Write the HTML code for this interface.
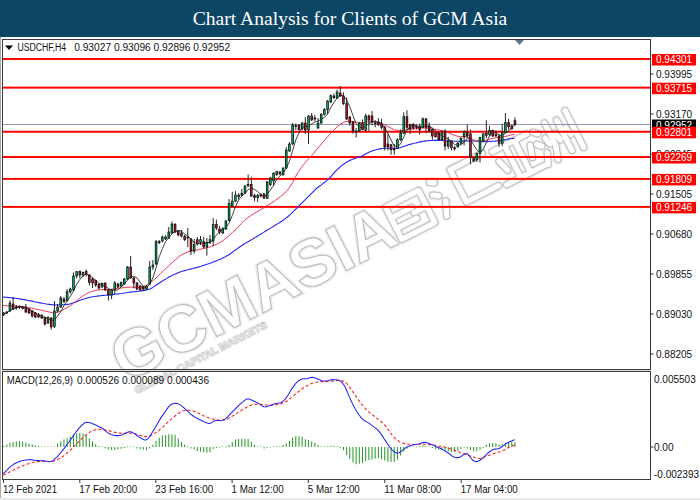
<!DOCTYPE html>
<html><head><meta charset="utf-8"><title>Chart Analysis for Clients of GCM Asia</title>
<style>
html,body{margin:0;padding:0;background:#fff;}
body{width:700px;height:500px;overflow:hidden;position:relative;font-family:"Liberation Sans",sans-serif;}
#hdr{position:absolute;left:0;top:0;width:700px;height:37px;background:#0d4565;color:#fff;font-family:"Liberation Serif",serif;font-size:19.6px;line-height:37px;text-align:center;}
#hdr span{display:inline-block;position:relative;top:-0.5px;}
svg{position:absolute;left:0;top:0;}
svg text{font-family:"Liberation Sans",sans-serif;font-size:10px;}
</style></head><body>
<div id="hdr"><span>Chart Analysis for Clients of GCM Asia</span></div>
<svg width="700" height="500" viewBox="0 0 700 500">
<rect x="0" y="37" width="1" height="463" fill="#a9a9a9"/>
<rect x="0" y="498" width="700" height="2" fill="#e9e9e9"/>
<g transform="translate(125.5,383) rotate(-27)" font-family="Liberation Sans, sans-serif" font-weight="bold">
<text x="0" y="0" style="font-size:66px" fill="none" stroke="#ededed" stroke-width="4" textLength="309" lengthAdjust="spacingAndGlyphs">GCMASIA</text>
<text x="0" y="0" style="font-size:66px" fill="#fff" stroke="#bcbcbc" stroke-width="1.1" textLength="309" lengthAdjust="spacingAndGlyphs">GCMASIA</text>
<g fill="none" stroke-linecap="round" stroke-linejoin="round"><polyline points="311.5,-38.5 348.5,-38.5 348.5,-2.5 311.5,-2.5 311.5,-38.5" stroke="#eeeeee" stroke-width="10"/><polyline points="311.5,-26.5 334.4,-26.5" stroke="#eeeeee" stroke-width="10"/><polyline points="311.5,-14.5 334.4,-14.5" stroke="#eeeeee" stroke-width="10"/><polyline points="334.4,-20.9 348.5,-20.9" stroke="#eeeeee" stroke-width="10"/><polyline points="362.0,-40.8 366.0,-38.3" stroke="#eeeeee" stroke-width="10"/><polyline points="359.0,-27.9 364.0,-24.5" stroke="#eeeeee" stroke-width="10"/><polyline points="368.0,-16.8 362.0,-3.0" stroke="#eeeeee" stroke-width="10"/><polyline points="422.0,-42.6 386.0,-42.6 386.0,-6.4 422.0,-6.4" stroke="#eeeeee" stroke-width="10"/><polyline points="431.7,-39.6 470.3,-39.6" stroke="#eeeeee" stroke-width="10"/><polyline points="445.5,-39.6 445.5,-3.6" stroke="#eeeeee" stroke-width="10"/><polyline points="456.5,-39.6 456.5,-3.6" stroke="#eeeeee" stroke-width="10"/><polyline points="433.5,-27.9 437.2,-16.2" stroke="#eeeeee" stroke-width="10"/><polyline points="468.5,-27.9 464.8,-16.2" stroke="#eeeeee" stroke-width="10"/><polyline points="429.8,-3.6 472.2,-3.6" stroke="#eeeeee" stroke-width="10"/><polyline points="476.7,-38.6 480.4,-35.0" stroke="#eeeeee" stroke-width="10"/><polyline points="474.8,-25.8 478.5,-22.1" stroke="#eeeeee" stroke-width="10"/><polyline points="475.8,-2.8 480.4,-13.8" stroke="#eeeeee" stroke-width="10"/><polyline points="491.4,-41.4 491.4,-16.6 486.8,-2.8" stroke="#eeeeee" stroke-width="10"/><polyline points="503.4,-38.6 503.4,-4.6" stroke="#eeeeee" stroke-width="10"/><polyline points="515.3,-43.2 515.3,-1.8" stroke="#eeeeee" stroke-width="10"/><polyline points="496.0,-27.6 497.8,-19.3" stroke="#eeeeee" stroke-width="10"/><polyline points="508.0,-27.6 509.8,-19.3" stroke="#eeeeee" stroke-width="10"/><polyline points="485.0,-27.6 486.8,-20.2" stroke="#eeeeee" stroke-width="10"/><polyline points="311.5,-38.5 348.5,-38.5 348.5,-2.5 311.5,-2.5 311.5,-38.5" stroke="#bcbcbc" stroke-width="7.4"/><polyline points="311.5,-26.5 334.4,-26.5" stroke="#bcbcbc" stroke-width="7.4"/><polyline points="311.5,-14.5 334.4,-14.5" stroke="#bcbcbc" stroke-width="7.4"/><polyline points="334.4,-20.9 348.5,-20.9" stroke="#bcbcbc" stroke-width="7.4"/><polyline points="362.0,-40.8 366.0,-38.3" stroke="#bcbcbc" stroke-width="7.4"/><polyline points="359.0,-27.9 364.0,-24.5" stroke="#bcbcbc" stroke-width="7.4"/><polyline points="368.0,-16.8 362.0,-3.0" stroke="#bcbcbc" stroke-width="7.4"/><polyline points="422.0,-42.6 386.0,-42.6 386.0,-6.4 422.0,-6.4" stroke="#bcbcbc" stroke-width="7.4"/><polyline points="431.7,-39.6 470.3,-39.6" stroke="#bcbcbc" stroke-width="7.4"/><polyline points="445.5,-39.6 445.5,-3.6" stroke="#bcbcbc" stroke-width="7.4"/><polyline points="456.5,-39.6 456.5,-3.6" stroke="#bcbcbc" stroke-width="7.4"/><polyline points="433.5,-27.9 437.2,-16.2" stroke="#bcbcbc" stroke-width="7.4"/><polyline points="468.5,-27.9 464.8,-16.2" stroke="#bcbcbc" stroke-width="7.4"/><polyline points="429.8,-3.6 472.2,-3.6" stroke="#bcbcbc" stroke-width="7.4"/><polyline points="476.7,-38.6 480.4,-35.0" stroke="#bcbcbc" stroke-width="7.4"/><polyline points="474.8,-25.8 478.5,-22.1" stroke="#bcbcbc" stroke-width="7.4"/><polyline points="475.8,-2.8 480.4,-13.8" stroke="#bcbcbc" stroke-width="7.4"/><polyline points="491.4,-41.4 491.4,-16.6 486.8,-2.8" stroke="#bcbcbc" stroke-width="7.4"/><polyline points="503.4,-38.6 503.4,-4.6" stroke="#bcbcbc" stroke-width="7.4"/><polyline points="515.3,-43.2 515.3,-1.8" stroke="#bcbcbc" stroke-width="7.4"/><polyline points="496.0,-27.6 497.8,-19.3" stroke="#bcbcbc" stroke-width="7.4"/><polyline points="508.0,-27.6 509.8,-19.3" stroke="#bcbcbc" stroke-width="7.4"/><polyline points="485.0,-27.6 486.8,-20.2" stroke="#bcbcbc" stroke-width="7.4"/><polyline points="311.5,-38.5 348.5,-38.5 348.5,-2.5 311.5,-2.5 311.5,-38.5" stroke="#ffffff" stroke-width="5.4"/><polyline points="311.5,-26.5 334.4,-26.5" stroke="#ffffff" stroke-width="5.4"/><polyline points="311.5,-14.5 334.4,-14.5" stroke="#ffffff" stroke-width="5.4"/><polyline points="334.4,-20.9 348.5,-20.9" stroke="#ffffff" stroke-width="5.4"/><polyline points="362.0,-40.8 366.0,-38.3" stroke="#ffffff" stroke-width="5.4"/><polyline points="359.0,-27.9 364.0,-24.5" stroke="#ffffff" stroke-width="5.4"/><polyline points="368.0,-16.8 362.0,-3.0" stroke="#ffffff" stroke-width="5.4"/><polyline points="422.0,-42.6 386.0,-42.6 386.0,-6.4 422.0,-6.4" stroke="#ffffff" stroke-width="5.4"/><polyline points="431.7,-39.6 470.3,-39.6" stroke="#ffffff" stroke-width="5.4"/><polyline points="445.5,-39.6 445.5,-3.6" stroke="#ffffff" stroke-width="5.4"/><polyline points="456.5,-39.6 456.5,-3.6" stroke="#ffffff" stroke-width="5.4"/><polyline points="433.5,-27.9 437.2,-16.2" stroke="#ffffff" stroke-width="5.4"/><polyline points="468.5,-27.9 464.8,-16.2" stroke="#ffffff" stroke-width="5.4"/><polyline points="429.8,-3.6 472.2,-3.6" stroke="#ffffff" stroke-width="5.4"/><polyline points="476.7,-38.6 480.4,-35.0" stroke="#ffffff" stroke-width="5.4"/><polyline points="474.8,-25.8 478.5,-22.1" stroke="#ffffff" stroke-width="5.4"/><polyline points="475.8,-2.8 480.4,-13.8" stroke="#ffffff" stroke-width="5.4"/><polyline points="491.4,-41.4 491.4,-16.6 486.8,-2.8" stroke="#ffffff" stroke-width="5.4"/><polyline points="503.4,-38.6 503.4,-4.6" stroke="#ffffff" stroke-width="5.4"/><polyline points="515.3,-43.2 515.3,-1.8" stroke="#ffffff" stroke-width="5.4"/><polyline points="496.0,-27.6 497.8,-19.3" stroke="#ffffff" stroke-width="5.4"/><polyline points="508.0,-27.6 509.8,-19.3" stroke="#ffffff" stroke-width="5.4"/><polyline points="485.0,-27.6 486.8,-20.2" stroke="#ffffff" stroke-width="5.4"/></g>
<text x="5" y="15" style="font-size:10px" fill="none" stroke="#f0f0f0" stroke-width="2.2" textLength="147" lengthAdjust="spacingAndGlyphs">GLOBAL CAPITAL MARKETS</text>
<text x="5" y="15" style="font-size:10px" fill="#fff" stroke="#c4c4c4" stroke-width="0.6" textLength="147" lengthAdjust="spacingAndGlyphs">GLOBAL CAPITAL MARKETS</text>
</g>
<!-- frames -->
<rect x="2" y="39" width="649" height="1" fill="#3c3c3c"/>
<rect x="2" y="39" width="1" height="441" fill="#3c3c3c"/>
<rect x="650" y="39" width="1" height="441" fill="#3c3c3c"/>
<rect x="2" y="369" width="649" height="1" fill="#3c3c3c"/>
<rect x="2" y="370" width="649" height="1" fill="#d8d8d8"/>
<rect x="2" y="371" width="649" height="1" fill="#3c3c3c"/>
<rect x="2" y="479" width="649" height="1" fill="#3c3c3c"/>
<polygon points="515,40 524,40 519.5,45" fill="#5d7891"/>
<rect x="3" y="124" width="647" height="1" fill="#8e9cae"/>
<rect x="3" y="58.02" width="647" height="1.96" fill="#ff0000"/><rect x="3" y="86.67" width="647" height="1.96" fill="#ff0000"/><rect x="3" y="130.77" width="647" height="1.96" fill="#ff0000"/><rect x="3" y="156.02" width="647" height="1.96" fill="#ff0000"/><rect x="3" y="177.92" width="647" height="1.96" fill="#ff0000"/><rect x="3" y="205.92" width="647" height="1.96" fill="#ff0000"/>
<path d="M3.0,297.0 L4.5,297.1 L6.0,297.2 L7.5,297.4 L9.0,297.6 L10.5,297.8 L12.0,297.9 L13.5,298.1 L15.0,298.3 L16.5,298.5 L18.0,298.7 L19.5,298.9 L21.0,299.1 L22.5,299.4 L24.0,299.6 L25.5,299.9 L27.0,300.2 L28.5,300.6 L30.0,300.8 L31.5,301.1 L33.0,301.4 L34.5,301.8 L36.0,302.1 L37.5,302.3 L39.0,302.6 L40.5,302.9 L42.0,303.2 L43.5,303.5 L45.0,303.7 L46.5,304.0 L48.0,304.2 L49.5,304.4 L51.0,304.6 L52.5,304.8 L54.0,304.9 L55.5,305.0 L57.0,305.0 L58.5,305.0 L60.0,305.0 L61.5,304.9 L63.0,304.8 L64.5,304.7 L66.0,304.6 L67.5,304.4 L69.0,304.2 L70.5,303.8 L72.0,303.3 L73.5,302.8 L75.0,302.3 L76.5,301.7 L78.0,301.1 L79.5,300.5 L81.0,300.0 L82.5,299.5 L84.0,299.0 L85.5,298.6 L87.0,298.1 L88.5,297.7 L90.0,297.3 L91.5,297.0 L93.0,296.7 L94.5,296.5 L96.0,296.3 L97.5,296.1 L99.0,295.9 L100.5,295.7 L102.0,295.5 L103.5,295.4 L105.0,295.3 L106.5,295.2 L108.0,295.0 L109.5,294.9 L111.0,294.7 L112.5,294.6 L114.0,294.4 L115.5,294.2 L117.0,294.0 L118.5,293.9 L120.0,293.7 L121.5,293.5 L123.0,293.2 L124.5,293.0 L126.0,292.8 L127.5,292.5 L129.0,292.3 L130.5,292.1 L132.0,291.9 L133.5,291.7 L135.0,291.6 L136.5,291.4 L138.0,291.3 L139.5,291.1 L141.0,290.9 L142.5,290.6 L144.0,290.4 L145.5,290.1 L147.0,289.8 L148.5,289.4 L150.0,289.0 L151.5,288.3 L153.0,287.4 L154.5,286.4 L156.0,285.3 L157.5,284.3 L159.0,283.2 L160.5,282.2 L162.0,281.3 L163.5,280.4 L165.0,279.5 L166.5,278.6 L168.0,277.6 L169.5,276.8 L171.0,276.0 L172.5,275.2 L174.0,274.6 L175.5,273.9 L177.0,273.2 L178.5,272.6 L180.0,272.0 L181.5,271.5 L183.0,271.0 L184.5,270.6 L186.0,270.2 L187.5,269.8 L189.0,269.5 L190.5,269.1 L192.0,268.7 L193.5,268.3 L195.0,267.9 L196.5,267.5 L198.0,267.1 L199.5,266.7 L201.0,266.3 L202.5,265.8 L204.0,265.3 L205.5,264.8 L207.0,264.3 L208.5,263.8 L210.0,263.2 L211.5,262.7 L213.0,262.1 L214.5,261.5 L216.0,260.9 L217.5,260.3 L219.0,259.7 L220.5,259.0 L222.0,258.4 L223.5,257.6 L225.0,256.9 L226.5,256.1 L228.0,255.3 L229.5,254.3 L231.0,253.3 L232.5,252.2 L234.0,251.1 L235.5,250.0 L237.0,248.9 L238.5,247.8 L240.0,246.8 L241.5,245.8 L243.0,244.8 L244.5,243.8 L246.0,242.9 L247.5,242.0 L249.0,241.2 L250.5,240.3 L252.0,239.4 L253.5,238.5 L255.0,237.6 L256.5,236.7 L258.0,235.8 L259.5,234.9 L261.0,234.0 L262.5,233.1 L264.0,232.1 L265.5,231.2 L267.0,230.3 L268.5,229.4 L270.0,228.5 L271.5,227.6 L273.0,226.7 L274.5,225.7 L276.0,224.8 L277.5,223.9 L279.0,223.0 L280.5,222.0 L282.0,221.0 L283.5,220.0 L285.0,218.9 L286.5,217.7 L288.0,216.5 L289.5,215.2 L291.0,213.8 L292.5,212.3 L294.0,210.8 L295.5,209.3 L297.0,207.8 L298.5,206.3 L300.0,204.8 L301.5,203.3 L303.0,201.8 L304.5,200.3 L306.0,198.8 L307.5,197.3 L309.0,195.8 L310.5,194.3 L312.0,192.8 L313.5,191.3 L315.0,189.8 L316.5,188.5 L318.0,187.3 L319.5,186.2 L321.0,185.1 L322.5,183.9 L324.0,182.7 L325.5,181.6 L327.0,180.3 L328.5,179.0 L330.0,177.5 L331.5,175.9 L333.0,174.2 L334.5,172.5 L336.0,170.9 L337.5,169.4 L339.0,168.0 L340.5,166.7 L342.0,165.4 L343.5,164.2 L345.0,163.1 L346.5,162.2 L348.0,161.4 L349.5,160.6 L351.0,159.9 L352.5,159.3 L354.0,158.7 L355.5,158.2 L357.0,157.8 L358.5,157.3 L360.0,156.8 L361.5,156.2 L363.0,155.4 L364.5,154.6 L366.0,153.7 L367.5,153.0 L369.0,152.3 L370.5,151.6 L372.0,151.0 L373.5,150.4 L375.0,150.0 L376.5,149.5 L378.0,149.2 L379.5,148.9 L381.0,148.6 L382.5,148.5 L384.0,148.3 L385.5,148.3 L387.0,148.3 L388.5,148.3 L390.0,148.3 L391.5,148.3 L393.0,148.3 L394.5,148.3 L396.0,148.3 L397.5,148.2 L399.0,147.9 L400.5,147.5 L402.0,146.9 L403.5,146.4 L405.0,145.9 L406.5,145.4 L408.0,144.9 L409.5,144.5 L411.0,144.1 L412.5,143.7 L414.0,143.3 L415.5,143.0 L417.0,142.6 L418.5,142.3 L420.0,141.9 L421.5,141.6 L423.0,141.3 L424.5,141.1 L426.0,140.9 L427.5,140.7 L429.0,140.6 L430.5,140.5 L432.0,140.5 L433.5,140.4 L435.0,140.4 L436.5,140.4 L438.0,140.4 L439.5,140.4 L441.0,140.4 L442.5,140.5 L444.0,140.6 L445.5,140.7 L447.0,140.8 L448.5,140.9 L450.0,141.0 L451.5,141.1 L453.0,141.2 L454.5,141.3 L456.0,141.3 L457.5,141.3 L459.0,141.2 L460.5,141.2 L462.0,141.1 L463.5,141.1 L465.0,141.0 L466.5,140.9 L468.0,140.9 L469.5,140.9 L471.0,140.9 L472.5,140.9 L474.0,141.0 L475.5,141.1 L477.0,141.2 L478.5,141.3 L480.0,141.4 L481.5,141.6 L483.0,141.7 L484.5,141.7 L486.0,141.7 L487.5,141.6 L489.0,141.5 L490.5,141.4 L492.0,141.3 L493.5,141.2 L495.0,141.1 L496.5,141.0 L498.0,140.8 L499.5,140.6 L501.0,140.4 L502.5,140.2 L504.0,139.9 L505.5,139.6 L507.0,139.3 L508.5,138.9 L510.0,138.7 L511.5,138.5 L513.0,138.4 L514.5,138.3" fill="none" stroke="#2424f4" stroke-width="1.1" stroke-linejoin="round"/>
<path d="M3.0,305.6 L4.5,305.7 L6.0,305.7 L7.5,305.8 L9.0,305.8 L10.5,305.9 L12.0,306.0 L13.5,306.0 L15.0,306.1 L16.5,306.2 L18.0,306.3 L19.5,306.4 L21.0,306.5 L22.5,306.7 L24.0,306.9 L25.5,307.2 L27.0,307.4 L28.5,307.6 L30.0,307.9 L31.5,308.2 L33.0,308.4 L34.5,308.8 L36.0,309.1 L37.5,309.3 L39.0,309.7 L40.5,310.0 L42.0,310.3 L43.5,310.7 L45.0,311.1 L46.5,311.4 L48.0,311.8 L49.5,312.1 L51.0,312.4 L52.5,312.7 L54.0,312.7 L55.5,312.6 L57.0,312.3 L58.5,311.9 L60.0,311.3 L61.5,310.6 L63.0,309.9 L64.5,309.1 L66.0,308.3 L67.5,307.4 L69.0,306.6 L70.5,305.6 L72.0,304.4 L73.5,303.2 L75.0,301.9 L76.5,300.7 L78.0,299.5 L79.5,298.4 L81.0,297.3 L82.5,296.3 L84.0,295.3 L85.5,294.4 L87.0,293.5 L88.5,292.7 L90.0,292.1 L91.5,291.5 L93.0,291.0 L94.5,290.6 L96.0,290.3 L97.5,290.0 L99.0,289.9 L100.5,289.7 L102.0,289.6 L103.5,289.6 L105.0,289.6 L106.5,289.6 L108.0,289.5 L109.5,289.4 L111.0,289.3 L112.5,289.0 L114.0,288.8 L115.5,288.6 L117.0,288.4 L118.5,288.2 L120.0,288.1 L121.5,287.9 L123.0,287.8 L124.5,287.6 L126.0,287.5 L127.5,287.3 L129.0,287.2 L130.5,287.1 L132.0,287.1 L133.5,287.2 L135.0,287.3 L136.5,287.3 L138.0,287.4 L139.5,287.4 L141.0,287.2 L142.5,286.8 L144.0,286.3 L145.5,285.7 L147.0,285.0 L148.5,284.2 L150.0,283.2 L151.5,282.0 L153.0,280.7 L154.5,279.4 L156.0,278.0 L157.5,276.6 L159.0,275.1 L160.5,273.6 L162.0,272.1 L163.5,270.7 L165.0,269.2 L166.5,267.8 L168.0,266.4 L169.5,265.0 L171.0,263.6 L172.5,262.3 L174.0,260.9 L175.5,259.6 L177.0,258.3 L178.5,257.0 L180.0,255.8 L181.5,254.8 L183.0,254.0 L184.5,253.4 L186.0,252.8 L187.5,252.2 L189.0,251.7 L190.5,251.3 L192.0,250.9 L193.5,250.6 L195.0,250.3 L196.5,250.1 L198.0,249.8 L199.5,249.4 L201.0,249.2 L202.5,248.8 L204.0,248.5 L205.5,248.1 L207.0,247.7 L208.5,247.3 L210.0,246.8 L211.5,246.3 L213.0,245.8 L214.5,245.2 L216.0,244.5 L217.5,243.9 L219.0,243.1 L220.5,242.3 L222.0,241.2 L223.5,240.1 L225.0,238.8 L226.5,237.6 L228.0,236.3 L229.5,235.0 L231.0,233.8 L232.5,232.5 L234.0,231.2 L235.5,229.7 L237.0,228.2 L238.5,226.6 L240.0,225.0 L241.5,223.4 L243.0,221.9 L244.5,220.5 L246.0,219.2 L247.5,218.0 L249.0,216.9 L250.5,215.8 L252.0,214.8 L253.5,213.9 L255.0,213.0 L256.5,212.1 L258.0,211.2 L259.5,210.3 L261.0,209.4 L262.5,208.5 L264.0,207.6 L265.5,206.7 L267.0,205.8 L268.5,204.9 L270.0,204.0 L271.5,203.0 L273.0,202.0 L274.5,201.0 L276.0,199.9 L277.5,198.9 L279.0,197.7 L280.5,196.6 L282.0,195.4 L283.5,194.2 L285.0,192.8 L286.5,191.2 L288.0,189.5 L289.5,187.5 L291.0,185.2 L292.5,182.6 L294.0,179.7 L295.5,176.8 L297.0,174.1 L298.5,171.7 L300.0,169.5 L301.5,167.4 L303.0,165.4 L304.5,163.5 L306.0,161.7 L307.5,159.9 L309.0,158.3 L310.5,156.8 L312.0,155.2 L313.5,153.5 L315.0,151.7 L316.5,149.8 L318.0,148.0 L319.5,146.2 L321.0,144.4 L322.5,142.6 L324.0,140.9 L325.5,139.2 L327.0,137.5 L328.5,135.8 L330.0,134.1 L331.5,132.4 L333.0,130.8 L334.5,129.3 L336.0,127.8 L337.5,126.4 L339.0,125.1 L340.5,124.1 L342.0,123.2 L343.5,122.4 L345.0,121.9 L346.5,121.5 L348.0,121.3 L349.5,121.2 L351.0,121.2 L352.5,121.4 L354.0,121.7 L355.5,122.0 L357.0,122.3 L358.5,122.6 L360.0,122.8 L361.5,122.8 L363.0,122.7 L364.5,122.5 L366.0,122.2 L367.5,122.0 L369.0,121.9 L370.5,121.8 L372.0,121.9 L373.5,122.0 L375.0,122.3 L376.5,122.7 L378.0,123.1 L379.5,123.5 L381.0,123.8 L382.5,124.3 L384.0,124.8 L385.5,125.4 L387.0,126.1 L388.5,126.9 L390.0,127.6 L391.5,128.4 L393.0,129.1 L394.5,129.7 L396.0,130.2 L397.5,130.5 L399.0,130.6 L400.5,130.6 L402.0,130.5 L403.5,130.3 L405.0,130.0 L406.5,129.7 L408.0,129.5 L409.5,129.3 L411.0,129.1 L412.5,128.9 L414.0,128.8 L415.5,128.6 L417.0,128.5 L418.5,128.4 L420.0,128.3 L421.5,128.1 L423.0,128.0 L424.5,128.0 L426.0,128.1 L427.5,128.2 L429.0,128.4 L430.5,128.6 L432.0,128.9 L433.5,129.1 L435.0,129.4 L436.5,129.7 L438.0,129.9 L439.5,130.1 L441.0,130.4 L442.5,130.7 L444.0,131.1 L445.5,131.5 L447.0,132.1 L448.5,132.8 L450.0,133.5 L451.5,134.2 L453.0,134.8 L454.5,135.3 L456.0,135.8 L457.5,136.2 L459.0,136.5 L460.5,136.6 L462.0,136.7 L463.5,136.8 L465.0,137.0 L466.5,137.1 L468.0,137.4 L469.5,137.8 L471.0,138.4 L472.5,139.2 L474.0,139.9 L475.5,140.5 L477.0,140.9 L478.5,141.1 L480.0,141.2 L481.5,141.1 L483.0,140.9 L484.5,140.5 L486.0,140.2 L487.5,139.7 L489.0,139.3 L490.5,138.9 L492.0,138.5 L493.5,138.2 L495.0,137.9 L496.5,137.7 L498.0,137.6 L499.5,137.4 L501.0,137.2 L502.5,137.0 L504.0,136.7 L505.5,136.4 L507.0,136.1 L508.5,135.7 L510.0,135.3 L511.5,134.9 L513.0,134.6 L514.5,134.3" fill="none" stroke="#f03050" stroke-width="1" stroke-linejoin="round"/>
<path d="M3.6,313.7 L6.8,313.0 L10.0,310.4 L13.1,309.1 L16.3,307.6 L19.5,306.3 L22.7,307.0 L25.8,308.1 L29.0,309.1 L32.2,311.0 L35.4,312.9 L38.5,314.5 L41.7,315.8 L44.9,317.7 L48.1,318.6 L51.2,320.7 L54.4,319.8 L57.6,316.2 L60.8,311.6 L63.9,305.6 L67.1,300.8 L70.3,296.3 L73.5,291.1 L76.6,284.4 L79.8,279.6 L83.0,275.5 L86.2,273.9 L89.4,275.6 L92.5,277.7 L95.7,280.2 L98.9,283.6 L102.1,284.6 L105.2,285.8 L108.4,288.5 L111.6,290.0 L114.8,290.3 L117.9,289.9 L121.1,287.1 L124.3,284.1 L127.5,280.3 L130.6,276.6 L133.8,276.4 L137.0,277.9 L140.2,282.3 L143.3,286.7 L146.5,287.8 L149.7,283.8 L152.9,277.9 L156.0,268.0 L159.2,256.8 L162.4,248.6 L165.6,241.7 L168.8,237.7 L171.9,233.7 L175.1,231.5 L178.3,230.6 L181.5,231.1 L184.6,234.1 L187.8,236.1 L191.0,239.6 L194.2,242.4 L197.3,243.3 L200.5,244.0 L203.7,243.1 L206.9,243.0 L210.0,242.3 L213.2,239.6 L216.4,235.1 L219.6,231.4 L222.7,229.0 L225.9,227.6 L229.1,223.1 L232.3,215.4 L235.4,206.9 L238.6,199.9 L241.8,196.2 L245.0,193.3 L248.2,189.7 L251.3,188.2 L254.5,189.4 L257.7,191.6 L260.9,195.0 L264.0,196.7 L267.2,194.2 L270.4,190.0 L273.6,185.4 L276.7,179.4 L279.9,175.9 L283.1,173.5 L286.3,168.0 L289.4,161.3 L292.6,150.7 L295.8,139.8 L299.0,132.9 L302.1,127.7 L305.3,126.7 L308.5,126.2 L311.7,123.8 L314.8,122.1 L318.0,121.2 L321.2,119.2 L324.4,117.5 L327.6,114.1 L330.7,107.7 L333.9,102.6 L337.1,98.2 L340.3,95.2 L343.4,95.9 L346.6,99.8 L349.8,106.8 L353.0,115.7 L356.1,123.7 L359.3,127.0 L362.5,128.2 L365.7,126.2 L368.8,123.5 L372.0,122.0 L375.2,121.3 L378.4,122.0 L381.5,122.8 L384.7,128.3 L387.9,133.2 L391.1,139.9 L394.2,146.0 L397.4,146.3 L400.6,144.0 L403.8,136.8 L407.0,130.1 L410.1,126.7 L413.3,124.8 L416.5,126.3 L419.7,128.1 L422.8,126.2 L426.0,126.0 L429.2,126.4 L432.4,127.8 L435.5,131.3 L438.7,134.1 L441.9,135.5 L445.1,137.3 L448.2,139.0 L451.4,141.2 L454.6,144.7 L457.8,145.3 L460.9,144.8 L464.1,142.2 L467.3,138.2 L470.5,139.8 L473.6,144.7 L476.8,149.8 L480.0,153.0 L483.2,149.5 L486.4,142.3 L489.5,136.0 L492.7,133.1 L495.9,132.6 L499.1,135.2 L502.2,136.0 L505.4,133.2 L508.6,130.9 L511.8,127.4 L514.9,124.5" fill="none" stroke="#111" stroke-width="0.8" stroke-linejoin="round"/>
<line x1="3.60" y1="312.0" x2="3.60" y2="316.0" stroke="#111" stroke-width="0.9"/>
<rect x="2.35" y="312.7" width="2.5" height="2.6" fill="#0a0a0a"/>
<rect x="3.05" y="313.4" width="1.1" height="1.2" fill="#00a44e"/>
<line x1="6.78" y1="311.0" x2="6.78" y2="314.0" stroke="#111" stroke-width="0.9"/>
<rect x="5.53" y="311.7" width="2.5" height="1.6" fill="#0a0a0a"/>
<line x1="9.95" y1="300.4" x2="9.95" y2="312.0" stroke="#111" stroke-width="0.9"/>
<rect x="8.70" y="302.7" width="2.5" height="8.6" fill="#0a0a0a"/>
<rect x="9.40" y="303.4" width="1.1" height="7.2" fill="#00a44e"/>
<line x1="13.13" y1="297.0" x2="13.13" y2="310.0" stroke="#111" stroke-width="0.9"/>
<rect x="11.88" y="303.7" width="2.5" height="5.6" fill="#0a0a0a"/>
<rect x="12.58" y="304.4" width="1.1" height="4.2" fill="#b81226"/>
<line x1="16.30" y1="305.0" x2="16.30" y2="309.6" stroke="#111" stroke-width="0.9"/>
<rect x="15.05" y="306.7" width="2.5" height="1.6" fill="#0a0a0a"/>
<line x1="19.48" y1="305.6" x2="19.48" y2="309.0" stroke="#111" stroke-width="0.9"/>
<rect x="18.23" y="306.3" width="2.5" height="1.6" fill="#0a0a0a"/>
<line x1="22.66" y1="306.0" x2="22.66" y2="309.6" stroke="#111" stroke-width="0.9"/>
<rect x="21.41" y="306.7" width="2.5" height="2.0" fill="#0a0a0a"/>
<rect x="22.11" y="307.4" width="1.1" height="0.6" fill="#b81226"/>
<line x1="25.83" y1="304.0" x2="25.83" y2="313.0" stroke="#111" stroke-width="0.9"/>
<rect x="24.58" y="306.7" width="2.5" height="5.6" fill="#0a0a0a"/>
<rect x="25.28" y="307.4" width="1.1" height="4.2" fill="#b81226"/>
<line x1="29.01" y1="308.0" x2="29.01" y2="314.0" stroke="#111" stroke-width="0.9"/>
<rect x="27.76" y="308.7" width="2.5" height="4.6" fill="#0a0a0a"/>
<rect x="28.46" y="309.4" width="1.1" height="3.2" fill="#b81226"/>
<line x1="32.18" y1="310.0" x2="32.18" y2="317.6" stroke="#111" stroke-width="0.9"/>
<rect x="30.93" y="310.7" width="2.5" height="5.6" fill="#0a0a0a"/>
<rect x="31.63" y="311.4" width="1.1" height="4.2" fill="#b81226"/>
<line x1="35.36" y1="312.0" x2="35.36" y2="318.0" stroke="#111" stroke-width="0.9"/>
<rect x="34.11" y="312.7" width="2.5" height="4.6" fill="#0a0a0a"/>
<rect x="34.81" y="313.4" width="1.1" height="3.2" fill="#b81226"/>
<line x1="38.54" y1="313.0" x2="38.54" y2="318.0" stroke="#111" stroke-width="0.9"/>
<rect x="37.29" y="314.7" width="2.5" height="2.6" fill="#0a0a0a"/>
<rect x="37.99" y="315.4" width="1.1" height="1.2" fill="#b81226"/>
<line x1="41.71" y1="314.0" x2="41.71" y2="319.0" stroke="#111" stroke-width="0.9"/>
<rect x="40.46" y="315.3" width="2.5" height="3.0" fill="#0a0a0a"/>
<rect x="41.16" y="316.0" width="1.1" height="1.6" fill="#b81226"/>
<line x1="44.89" y1="316.4" x2="44.89" y2="325.6" stroke="#111" stroke-width="0.9"/>
<rect x="43.64" y="317.1" width="2.5" height="7.2" fill="#0a0a0a"/>
<rect x="44.34" y="317.8" width="1.1" height="5.8" fill="#b81226"/>
<line x1="48.06" y1="316.4" x2="48.06" y2="324.0" stroke="#111" stroke-width="0.9"/>
<rect x="46.81" y="317.1" width="2.5" height="6.2" fill="#0a0a0a"/>
<rect x="47.51" y="317.8" width="1.1" height="4.8" fill="#00a44e"/>
<line x1="51.24" y1="317.0" x2="51.24" y2="329.4" stroke="#111" stroke-width="0.9"/>
<rect x="49.99" y="317.7" width="2.5" height="9.6" fill="#0a0a0a"/>
<rect x="50.69" y="318.4" width="1.1" height="8.2" fill="#b81226"/>
<line x1="54.42" y1="301.0" x2="54.42" y2="328.0" stroke="#111" stroke-width="0.9"/>
<rect x="53.17" y="310.7" width="2.5" height="16.0" fill="#0a0a0a"/>
<rect x="53.87" y="311.4" width="1.1" height="14.6" fill="#00a44e"/>
<line x1="57.59" y1="304.0" x2="57.59" y2="312.4" stroke="#111" stroke-width="0.9"/>
<rect x="56.34" y="306.7" width="2.5" height="4.6" fill="#0a0a0a"/>
<rect x="57.04" y="307.4" width="1.1" height="3.2" fill="#00a44e"/>
<line x1="60.77" y1="296.0" x2="60.77" y2="308.0" stroke="#111" stroke-width="0.9"/>
<rect x="59.52" y="297.7" width="2.5" height="9.6" fill="#0a0a0a"/>
<rect x="60.22" y="298.4" width="1.1" height="8.2" fill="#00a44e"/>
<line x1="63.94" y1="297.0" x2="63.94" y2="303.0" stroke="#111" stroke-width="0.9"/>
<rect x="62.69" y="298.7" width="2.5" height="3.2" fill="#0a0a0a"/>
<rect x="63.39" y="299.4" width="1.1" height="1.8" fill="#b81226"/>
<line x1="67.12" y1="289.0" x2="67.12" y2="301.6" stroke="#111" stroke-width="0.9"/>
<rect x="65.87" y="291.3" width="2.5" height="9.4" fill="#0a0a0a"/>
<rect x="66.57" y="292.0" width="1.1" height="8.0" fill="#00a44e"/>
<line x1="70.30" y1="287.6" x2="70.30" y2="293.6" stroke="#111" stroke-width="0.9"/>
<rect x="69.05" y="288.7" width="2.5" height="3.6" fill="#0a0a0a"/>
<rect x="69.75" y="289.4" width="1.1" height="2.2" fill="#00a44e"/>
<line x1="73.47" y1="272.4" x2="73.47" y2="291.0" stroke="#111" stroke-width="0.9"/>
<rect x="72.22" y="275.7" width="2.5" height="14.6" fill="#0a0a0a"/>
<rect x="72.92" y="276.4" width="1.1" height="13.2" fill="#00a44e"/>
<line x1="76.65" y1="271.0" x2="76.65" y2="278.4" stroke="#111" stroke-width="0.9"/>
<rect x="75.40" y="271.3" width="2.5" height="5.0" fill="#0a0a0a"/>
<rect x="76.10" y="272.0" width="1.1" height="3.6" fill="#00a44e"/>
<line x1="79.82" y1="270.6" x2="79.82" y2="278.4" stroke="#111" stroke-width="0.9"/>
<rect x="78.57" y="271.1" width="2.5" height="4.2" fill="#0a0a0a"/>
<rect x="79.27" y="271.8" width="1.1" height="2.8" fill="#b81226"/>
<line x1="83.00" y1="271.6" x2="83.00" y2="277.4" stroke="#111" stroke-width="0.9"/>
<rect x="81.75" y="272.1" width="2.5" height="3.2" fill="#0a0a0a"/>
<rect x="82.45" y="272.8" width="1.1" height="1.8" fill="#00a44e"/>
<line x1="86.18" y1="269.4" x2="86.18" y2="276.4" stroke="#111" stroke-width="0.9"/>
<rect x="84.93" y="271.1" width="2.5" height="3.6" fill="#0a0a0a"/>
<rect x="85.63" y="271.8" width="1.1" height="2.2" fill="#b81226"/>
<line x1="89.35" y1="274.0" x2="89.35" y2="285.6" stroke="#111" stroke-width="0.9"/>
<rect x="88.10" y="274.7" width="2.5" height="8.0" fill="#0a0a0a"/>
<rect x="88.80" y="275.4" width="1.1" height="6.6" fill="#b81226"/>
<line x1="92.53" y1="278.0" x2="92.53" y2="288.0" stroke="#111" stroke-width="0.9"/>
<rect x="91.28" y="278.7" width="2.5" height="4.6" fill="#0a0a0a"/>
<rect x="91.98" y="279.4" width="1.1" height="3.2" fill="#b81226"/>
<line x1="95.70" y1="279.6" x2="95.70" y2="287.0" stroke="#111" stroke-width="0.9"/>
<rect x="94.45" y="280.1" width="2.5" height="5.2" fill="#0a0a0a"/>
<rect x="95.15" y="280.8" width="1.1" height="3.8" fill="#b81226"/>
<line x1="98.88" y1="283.0" x2="98.88" y2="289.6" stroke="#111" stroke-width="0.9"/>
<rect x="97.63" y="284.1" width="2.5" height="4.2" fill="#0a0a0a"/>
<rect x="98.33" y="284.8" width="1.1" height="2.8" fill="#b81226"/>
<line x1="102.06" y1="282.4" x2="102.06" y2="288.0" stroke="#111" stroke-width="0.9"/>
<rect x="100.81" y="283.1" width="2.5" height="4.2" fill="#0a0a0a"/>
<rect x="101.51" y="283.8" width="1.1" height="2.8" fill="#00a44e"/>
<line x1="105.23" y1="282.4" x2="105.23" y2="291.0" stroke="#111" stroke-width="0.9"/>
<rect x="103.98" y="282.7" width="2.5" height="7.6" fill="#0a0a0a"/>
<rect x="104.68" y="283.4" width="1.1" height="6.2" fill="#b81226"/>
<line x1="108.41" y1="289.0" x2="108.41" y2="300.4" stroke="#111" stroke-width="0.9"/>
<rect x="107.16" y="289.7" width="2.5" height="5.6" fill="#0a0a0a"/>
<rect x="107.86" y="290.4" width="1.1" height="4.2" fill="#b81226"/>
<line x1="111.58" y1="289.0" x2="111.58" y2="299.0" stroke="#111" stroke-width="0.9"/>
<rect x="110.33" y="289.7" width="2.5" height="5.6" fill="#0a0a0a"/>
<rect x="111.03" y="290.4" width="1.1" height="4.2" fill="#00a44e"/>
<line x1="114.76" y1="281.0" x2="114.76" y2="294.0" stroke="#111" stroke-width="0.9"/>
<rect x="113.51" y="282.7" width="2.5" height="7.0" fill="#0a0a0a"/>
<rect x="114.21" y="283.4" width="1.1" height="5.6" fill="#00a44e"/>
<line x1="117.94" y1="283.0" x2="117.94" y2="288.0" stroke="#111" stroke-width="0.9"/>
<rect x="116.69" y="283.7" width="2.5" height="3.6" fill="#0a0a0a"/>
<rect x="117.39" y="284.4" width="1.1" height="2.2" fill="#b81226"/>
<line x1="121.11" y1="281.6" x2="121.11" y2="287.0" stroke="#111" stroke-width="0.9"/>
<rect x="119.86" y="282.1" width="2.5" height="4.2" fill="#0a0a0a"/>
<rect x="120.56" y="282.8" width="1.1" height="2.8" fill="#00a44e"/>
<line x1="124.29" y1="278.0" x2="124.29" y2="285.0" stroke="#111" stroke-width="0.9"/>
<rect x="123.04" y="278.7" width="2.5" height="5.6" fill="#0a0a0a"/>
<rect x="123.74" y="279.4" width="1.1" height="4.2" fill="#00a44e"/>
<line x1="127.46" y1="266.0" x2="127.46" y2="280.0" stroke="#111" stroke-width="0.9"/>
<rect x="126.21" y="266.7" width="2.5" height="12.6" fill="#0a0a0a"/>
<rect x="126.91" y="267.4" width="1.1" height="11.2" fill="#00a44e"/>
<line x1="130.64" y1="256.0" x2="130.64" y2="279.0" stroke="#111" stroke-width="0.9"/>
<rect x="129.39" y="266.7" width="2.5" height="11.6" fill="#0a0a0a"/>
<rect x="130.09" y="267.4" width="1.1" height="10.2" fill="#b81226"/>
<line x1="133.82" y1="277.0" x2="133.82" y2="288.4" stroke="#111" stroke-width="0.9"/>
<rect x="132.57" y="277.7" width="2.5" height="5.6" fill="#0a0a0a"/>
<rect x="133.27" y="278.4" width="1.1" height="4.2" fill="#b81226"/>
<line x1="136.99" y1="282.0" x2="136.99" y2="290.0" stroke="#111" stroke-width="0.9"/>
<rect x="135.74" y="282.7" width="2.5" height="6.6" fill="#0a0a0a"/>
<rect x="136.44" y="283.4" width="1.1" height="5.2" fill="#b81226"/>
<line x1="140.17" y1="285.0" x2="140.17" y2="291.0" stroke="#111" stroke-width="0.9"/>
<rect x="138.92" y="285.7" width="2.5" height="4.2" fill="#0a0a0a"/>
<rect x="139.62" y="286.4" width="1.1" height="2.8" fill="#b81226"/>
<line x1="143.34" y1="285.6" x2="143.34" y2="291.0" stroke="#111" stroke-width="0.9"/>
<rect x="142.09" y="286.7" width="2.5" height="2.6" fill="#0a0a0a"/>
<rect x="142.79" y="287.4" width="1.1" height="1.2" fill="#b81226"/>
<line x1="146.52" y1="285.0" x2="146.52" y2="290.0" stroke="#111" stroke-width="0.9"/>
<rect x="145.27" y="285.7" width="2.5" height="3.6" fill="#0a0a0a"/>
<rect x="145.97" y="286.4" width="1.1" height="2.2" fill="#00a44e"/>
<line x1="149.70" y1="261.0" x2="149.70" y2="285.0" stroke="#111" stroke-width="0.9"/>
<rect x="148.45" y="266.7" width="2.5" height="17.6" fill="#0a0a0a"/>
<rect x="149.15" y="267.4" width="1.1" height="16.2" fill="#00a44e"/>
<line x1="152.87" y1="260.0" x2="152.87" y2="270.0" stroke="#111" stroke-width="0.9"/>
<rect x="151.62" y="264.7" width="2.5" height="2.6" fill="#0a0a0a"/>
<rect x="152.32" y="265.4" width="1.1" height="1.2" fill="#00a44e"/>
<line x1="156.05" y1="240.0" x2="156.05" y2="265.0" stroke="#111" stroke-width="0.9"/>
<rect x="154.80" y="241.3" width="2.5" height="23.0" fill="#0a0a0a"/>
<rect x="155.50" y="242.0" width="1.1" height="21.6" fill="#00a44e"/>
<line x1="159.22" y1="240.0" x2="159.22" y2="244.0" stroke="#111" stroke-width="0.9"/>
<rect x="157.97" y="241.3" width="2.5" height="1.8" fill="#0a0a0a"/>
<line x1="162.40" y1="235.6" x2="162.40" y2="242.4" stroke="#111" stroke-width="0.9"/>
<rect x="161.15" y="236.7" width="2.5" height="4.6" fill="#0a0a0a"/>
<rect x="161.85" y="237.4" width="1.1" height="3.2" fill="#00a44e"/>
<line x1="165.58" y1="235.0" x2="165.58" y2="240.0" stroke="#111" stroke-width="0.9"/>
<rect x="164.33" y="236.7" width="2.5" height="2.6" fill="#0a0a0a"/>
<rect x="165.03" y="237.4" width="1.1" height="1.2" fill="#00a44e"/>
<line x1="168.75" y1="227.0" x2="168.75" y2="239.0" stroke="#111" stroke-width="0.9"/>
<rect x="167.50" y="231.7" width="2.5" height="6.6" fill="#0a0a0a"/>
<rect x="168.20" y="232.4" width="1.1" height="5.2" fill="#00a44e"/>
<line x1="171.93" y1="221.6" x2="171.93" y2="234.0" stroke="#111" stroke-width="0.9"/>
<rect x="170.68" y="223.7" width="2.5" height="9.6" fill="#0a0a0a"/>
<rect x="171.38" y="224.4" width="1.1" height="8.2" fill="#00a44e"/>
<line x1="175.10" y1="223.0" x2="175.10" y2="233.0" stroke="#111" stroke-width="0.9"/>
<rect x="173.85" y="224.1" width="2.5" height="8.2" fill="#0a0a0a"/>
<rect x="174.55" y="224.8" width="1.1" height="6.8" fill="#b81226"/>
<line x1="178.28" y1="230.0" x2="178.28" y2="236.4" stroke="#111" stroke-width="0.9"/>
<rect x="177.03" y="230.7" width="2.5" height="4.6" fill="#0a0a0a"/>
<rect x="177.73" y="231.4" width="1.1" height="3.2" fill="#b81226"/>
<line x1="181.46" y1="230.0" x2="181.46" y2="237.6" stroke="#111" stroke-width="0.9"/>
<rect x="180.21" y="232.7" width="2.5" height="3.6" fill="#0a0a0a"/>
<rect x="180.91" y="233.4" width="1.1" height="2.2" fill="#b81226"/>
<line x1="184.63" y1="235.0" x2="184.63" y2="241.0" stroke="#111" stroke-width="0.9"/>
<rect x="183.38" y="236.1" width="2.5" height="3.8" fill="#0a0a0a"/>
<rect x="184.08" y="236.8" width="1.1" height="2.4" fill="#b81226"/>
<line x1="187.81" y1="228.0" x2="187.81" y2="247.0" stroke="#111" stroke-width="0.9"/>
<rect x="186.56" y="236.7" width="2.5" height="1.6" fill="#0a0a0a"/>
<line x1="190.98" y1="238.0" x2="190.98" y2="255.0" stroke="#111" stroke-width="0.9"/>
<rect x="189.73" y="238.7" width="2.5" height="12.6" fill="#0a0a0a"/>
<rect x="190.43" y="239.4" width="1.1" height="11.2" fill="#b81226"/>
<line x1="194.16" y1="239.0" x2="194.16" y2="253.6" stroke="#111" stroke-width="0.9"/>
<rect x="192.91" y="244.1" width="2.5" height="7.2" fill="#0a0a0a"/>
<rect x="193.61" y="244.8" width="1.1" height="5.8" fill="#00a44e"/>
<line x1="197.34" y1="237.0" x2="197.34" y2="245.6" stroke="#111" stroke-width="0.9"/>
<rect x="196.09" y="239.3" width="2.5" height="5.0" fill="#0a0a0a"/>
<rect x="196.79" y="240.0" width="1.1" height="3.6" fill="#b81226"/>
<line x1="200.51" y1="236.0" x2="200.51" y2="245.0" stroke="#111" stroke-width="0.9"/>
<rect x="199.26" y="239.3" width="2.5" height="3.4" fill="#0a0a0a"/>
<rect x="199.96" y="240.0" width="1.1" height="2.0" fill="#00a44e"/>
<line x1="203.69" y1="237.0" x2="203.69" y2="248.4" stroke="#111" stroke-width="0.9"/>
<rect x="202.44" y="241.3" width="2.5" height="6.0" fill="#0a0a0a"/>
<rect x="203.14" y="242.0" width="1.1" height="4.6" fill="#b81226"/>
<line x1="206.86" y1="238.0" x2="206.86" y2="255.6" stroke="#111" stroke-width="0.9"/>
<rect x="205.61" y="242.1" width="2.5" height="5.2" fill="#0a0a0a"/>
<rect x="206.31" y="242.8" width="1.1" height="3.8" fill="#00a44e"/>
<line x1="210.04" y1="235.0" x2="210.04" y2="244.0" stroke="#111" stroke-width="0.9"/>
<rect x="208.79" y="239.3" width="2.5" height="3.4" fill="#0a0a0a"/>
<rect x="209.49" y="240.0" width="1.1" height="2.0" fill="#00a44e"/>
<line x1="213.22" y1="218.0" x2="213.22" y2="246.0" stroke="#111" stroke-width="0.9"/>
<rect x="211.97" y="224.1" width="2.5" height="17.2" fill="#0a0a0a"/>
<rect x="212.67" y="224.8" width="1.1" height="15.8" fill="#00a44e"/>
<line x1="216.39" y1="219.6" x2="216.39" y2="230.0" stroke="#111" stroke-width="0.9"/>
<rect x="215.14" y="224.1" width="2.5" height="4.2" fill="#0a0a0a"/>
<rect x="215.84" y="224.8" width="1.1" height="2.8" fill="#b81226"/>
<line x1="219.57" y1="226.0" x2="219.57" y2="234.0" stroke="#111" stroke-width="0.9"/>
<rect x="218.32" y="228.7" width="2.5" height="3.6" fill="#0a0a0a"/>
<rect x="219.02" y="229.4" width="1.1" height="2.2" fill="#b81226"/>
<line x1="222.74" y1="227.0" x2="222.74" y2="234.0" stroke="#111" stroke-width="0.9"/>
<rect x="221.49" y="228.7" width="2.5" height="4.6" fill="#0a0a0a"/>
<rect x="222.19" y="229.4" width="1.1" height="3.2" fill="#00a44e"/>
<line x1="225.92" y1="220.0" x2="225.92" y2="230.0" stroke="#111" stroke-width="0.9"/>
<rect x="224.67" y="220.7" width="2.5" height="8.6" fill="#0a0a0a"/>
<rect x="225.37" y="221.4" width="1.1" height="7.2" fill="#00a44e"/>
<line x1="229.10" y1="199.0" x2="229.10" y2="221.3" stroke="#111" stroke-width="0.9"/>
<rect x="227.85" y="203.0" width="2.5" height="17.9" fill="#0a0a0a"/>
<rect x="228.55" y="203.7" width="1.1" height="16.5" fill="#00a44e"/>
<line x1="232.27" y1="191.8" x2="232.27" y2="206.9" stroke="#111" stroke-width="0.9"/>
<rect x="231.02" y="200.9" width="2.5" height="5.6" fill="#0a0a0a"/>
<rect x="231.72" y="201.6" width="1.1" height="4.2" fill="#00a44e"/>
<line x1="235.45" y1="191.1" x2="235.45" y2="201.9" stroke="#111" stroke-width="0.9"/>
<rect x="234.20" y="194.7" width="2.5" height="6.8" fill="#0a0a0a"/>
<rect x="234.90" y="195.4" width="1.1" height="5.4" fill="#00a44e"/>
<line x1="238.62" y1="193.2" x2="238.62" y2="199.7" stroke="#111" stroke-width="0.9"/>
<rect x="237.37" y="194.7" width="2.5" height="2.5" fill="#0a0a0a"/>
<rect x="238.07" y="195.4" width="1.1" height="1.1" fill="#00a44e"/>
<line x1="241.80" y1="188.9" x2="241.80" y2="196.1" stroke="#111" stroke-width="0.9"/>
<rect x="240.55" y="192.9" width="2.5" height="2.8" fill="#0a0a0a"/>
<rect x="241.25" y="193.6" width="1.1" height="1.4" fill="#00a44e"/>
<line x1="244.98" y1="185.3" x2="244.98" y2="193.9" stroke="#111" stroke-width="0.9"/>
<rect x="243.73" y="185.7" width="2.5" height="7.8" fill="#0a0a0a"/>
<rect x="244.43" y="186.4" width="1.1" height="6.4" fill="#00a44e"/>
<line x1="248.15" y1="174.5" x2="248.15" y2="186.7" stroke="#111" stroke-width="0.9"/>
<rect x="246.90" y="184.0" width="2.5" height="2.3" fill="#0a0a0a"/>
<rect x="247.60" y="184.7" width="1.1" height="0.9" fill="#00a44e"/>
<line x1="251.33" y1="176.7" x2="251.33" y2="196.8" stroke="#111" stroke-width="0.9"/>
<rect x="250.08" y="184.0" width="2.5" height="12.4" fill="#0a0a0a"/>
<rect x="250.78" y="184.7" width="1.1" height="11.0" fill="#b81226"/>
<line x1="254.50" y1="193.9" x2="254.50" y2="201.2" stroke="#111" stroke-width="0.9"/>
<rect x="253.25" y="195.1" width="2.5" height="2.8" fill="#0a0a0a"/>
<rect x="253.95" y="195.8" width="1.1" height="1.4" fill="#b81226"/>
<line x1="257.68" y1="193.9" x2="257.68" y2="201.9" stroke="#111" stroke-width="0.9"/>
<rect x="256.43" y="195.1" width="2.5" height="2.8" fill="#0a0a0a"/>
<rect x="257.13" y="195.8" width="1.1" height="1.4" fill="#00a44e"/>
<line x1="260.86" y1="193.2" x2="260.86" y2="197.6" stroke="#111" stroke-width="0.9"/>
<rect x="259.61" y="194.4" width="2.5" height="1.8" fill="#0a0a0a"/>
<line x1="264.03" y1="193.2" x2="264.03" y2="199.0" stroke="#111" stroke-width="0.9"/>
<rect x="262.78" y="193.6" width="2.5" height="4.9" fill="#0a0a0a"/>
<rect x="263.48" y="194.3" width="1.1" height="3.5" fill="#b81226"/>
<line x1="267.21" y1="181.0" x2="267.21" y2="199.0" stroke="#111" stroke-width="0.9"/>
<rect x="265.96" y="181.4" width="2.5" height="17.2" fill="#0a0a0a"/>
<rect x="266.66" y="182.1" width="1.1" height="15.8" fill="#00a44e"/>
<line x1="270.38" y1="176.7" x2="270.38" y2="186.0" stroke="#111" stroke-width="0.9"/>
<rect x="269.13" y="177.8" width="2.5" height="7.1" fill="#0a0a0a"/>
<rect x="269.83" y="178.5" width="1.1" height="5.7" fill="#00a44e"/>
<line x1="273.56" y1="172.3" x2="273.56" y2="186.0" stroke="#111" stroke-width="0.9"/>
<rect x="272.31" y="172.8" width="2.5" height="8.5" fill="#0a0a0a"/>
<rect x="273.01" y="173.5" width="1.1" height="7.1" fill="#00a44e"/>
<line x1="276.74" y1="170.9" x2="276.74" y2="175.9" stroke="#111" stroke-width="0.9"/>
<rect x="275.49" y="171.3" width="2.5" height="3.5" fill="#0a0a0a"/>
<rect x="276.19" y="172.0" width="1.1" height="2.1" fill="#00a44e"/>
<line x1="279.91" y1="171.3" x2="279.91" y2="175.2" stroke="#111" stroke-width="0.9"/>
<rect x="278.66" y="171.6" width="2.5" height="2.5" fill="#0a0a0a"/>
<rect x="279.36" y="172.3" width="1.1" height="1.1" fill="#b81226"/>
<line x1="283.09" y1="167.3" x2="283.09" y2="175.9" stroke="#111" stroke-width="0.9"/>
<rect x="281.84" y="167.7" width="2.5" height="7.1" fill="#0a0a0a"/>
<rect x="282.54" y="168.4" width="1.1" height="5.7" fill="#00a44e"/>
<line x1="286.26" y1="147.0" x2="286.26" y2="169.0" stroke="#111" stroke-width="0.9"/>
<rect x="285.01" y="149.7" width="2.5" height="18.6" fill="#0a0a0a"/>
<rect x="285.71" y="150.4" width="1.1" height="17.2" fill="#00a44e"/>
<line x1="289.44" y1="142.0" x2="289.44" y2="152.0" stroke="#111" stroke-width="0.9"/>
<rect x="288.19" y="143.7" width="2.5" height="7.6" fill="#0a0a0a"/>
<rect x="288.89" y="144.4" width="1.1" height="6.2" fill="#00a44e"/>
<line x1="292.62" y1="123.0" x2="292.62" y2="145.0" stroke="#111" stroke-width="0.9"/>
<rect x="291.37" y="124.7" width="2.5" height="19.6" fill="#0a0a0a"/>
<rect x="292.07" y="125.4" width="1.1" height="18.2" fill="#00a44e"/>
<line x1="295.79" y1="123.6" x2="295.79" y2="130.0" stroke="#111" stroke-width="0.9"/>
<rect x="294.54" y="125.3" width="2.5" height="1.5" fill="#0a0a0a"/>
<line x1="298.97" y1="124.0" x2="298.97" y2="130.4" stroke="#111" stroke-width="0.9"/>
<rect x="297.72" y="124.7" width="2.5" height="5.2" fill="#0a0a0a"/>
<rect x="298.42" y="125.4" width="1.1" height="3.8" fill="#b81226"/>
<line x1="302.14" y1="122.0" x2="302.14" y2="130.0" stroke="#111" stroke-width="0.9"/>
<rect x="300.89" y="122.7" width="2.5" height="6.6" fill="#0a0a0a"/>
<rect x="301.59" y="123.4" width="1.1" height="5.2" fill="#00a44e"/>
<line x1="305.32" y1="117.0" x2="305.32" y2="134.0" stroke="#111" stroke-width="0.9"/>
<rect x="304.07" y="122.7" width="2.5" height="7.6" fill="#0a0a0a"/>
<rect x="304.77" y="123.4" width="1.1" height="6.2" fill="#b81226"/>
<line x1="308.50" y1="115.0" x2="308.50" y2="144.0" stroke="#111" stroke-width="0.9"/>
<rect x="307.25" y="115.7" width="2.5" height="14.6" fill="#0a0a0a"/>
<rect x="307.95" y="116.4" width="1.1" height="13.2" fill="#00a44e"/>
<line x1="311.67" y1="113.0" x2="311.67" y2="121.0" stroke="#111" stroke-width="0.9"/>
<rect x="310.42" y="115.7" width="2.5" height="4.6" fill="#0a0a0a"/>
<rect x="311.12" y="116.4" width="1.1" height="3.2" fill="#b81226"/>
<line x1="314.85" y1="115.0" x2="314.85" y2="121.0" stroke="#111" stroke-width="0.9"/>
<rect x="313.60" y="117.7" width="2.5" height="1.6" fill="#0a0a0a"/>
<line x1="318.02" y1="118.0" x2="318.02" y2="129.0" stroke="#111" stroke-width="0.9"/>
<rect x="316.77" y="122.7" width="2.5" height="5.6" fill="#0a0a0a"/>
<rect x="317.47" y="123.4" width="1.1" height="4.2" fill="#00a44e"/>
<line x1="321.20" y1="113.0" x2="321.20" y2="124.0" stroke="#111" stroke-width="0.9"/>
<rect x="319.95" y="114.1" width="2.5" height="9.2" fill="#0a0a0a"/>
<rect x="320.65" y="114.8" width="1.1" height="7.8" fill="#00a44e"/>
<line x1="324.38" y1="108.0" x2="324.38" y2="115.6" stroke="#111" stroke-width="0.9"/>
<rect x="323.13" y="109.3" width="2.5" height="5.4" fill="#0a0a0a"/>
<rect x="323.83" y="110.0" width="1.1" height="4.0" fill="#00a44e"/>
<line x1="327.55" y1="100.0" x2="327.55" y2="114.0" stroke="#111" stroke-width="0.9"/>
<rect x="326.30" y="100.7" width="2.5" height="9.2" fill="#0a0a0a"/>
<rect x="327.00" y="101.4" width="1.1" height="7.8" fill="#00a44e"/>
<line x1="330.73" y1="94.4" x2="330.73" y2="103.0" stroke="#111" stroke-width="0.9"/>
<rect x="329.48" y="95.3" width="2.5" height="7.0" fill="#0a0a0a"/>
<rect x="330.18" y="96.0" width="1.1" height="5.6" fill="#00a44e"/>
<line x1="333.90" y1="93.6" x2="333.90" y2="99.0" stroke="#111" stroke-width="0.9"/>
<rect x="332.65" y="95.7" width="2.5" height="2.2" fill="#0a0a0a"/>
<rect x="333.35" y="96.4" width="1.1" height="0.8" fill="#b81226"/>
<line x1="337.08" y1="89.6" x2="337.08" y2="99.0" stroke="#111" stroke-width="0.9"/>
<rect x="335.83" y="91.7" width="2.5" height="6.6" fill="#0a0a0a"/>
<rect x="336.53" y="92.4" width="1.1" height="5.2" fill="#00a44e"/>
<line x1="340.26" y1="86.0" x2="340.26" y2="97.0" stroke="#111" stroke-width="0.9"/>
<rect x="339.01" y="92.7" width="2.5" height="3.6" fill="#0a0a0a"/>
<rect x="339.71" y="93.4" width="1.1" height="2.2" fill="#b81226"/>
<line x1="343.43" y1="92.4" x2="343.43" y2="105.0" stroke="#111" stroke-width="0.9"/>
<rect x="342.18" y="95.7" width="2.5" height="8.2" fill="#0a0a0a"/>
<rect x="342.88" y="96.4" width="1.1" height="6.8" fill="#b81226"/>
<line x1="346.61" y1="97.6" x2="346.61" y2="120.0" stroke="#111" stroke-width="0.9"/>
<rect x="345.36" y="103.3" width="2.5" height="16.0" fill="#0a0a0a"/>
<rect x="346.06" y="104.0" width="1.1" height="14.6" fill="#b81226"/>
<line x1="349.78" y1="116.0" x2="349.78" y2="125.6" stroke="#111" stroke-width="0.9"/>
<rect x="348.53" y="116.7" width="2.5" height="6.6" fill="#0a0a0a"/>
<rect x="349.23" y="117.4" width="1.1" height="5.2" fill="#b81226"/>
<line x1="352.96" y1="121.0" x2="352.96" y2="133.6" stroke="#111" stroke-width="0.9"/>
<rect x="351.71" y="121.7" width="2.5" height="9.6" fill="#0a0a0a"/>
<rect x="352.41" y="122.4" width="1.1" height="8.2" fill="#b81226"/>
<line x1="356.14" y1="128.0" x2="356.14" y2="137.6" stroke="#111" stroke-width="0.9"/>
<rect x="354.89" y="130.7" width="2.5" height="1.5" fill="#0a0a0a"/>
<line x1="359.31" y1="122.0" x2="359.31" y2="131.6" stroke="#111" stroke-width="0.9"/>
<rect x="358.06" y="122.7" width="2.5" height="8.6" fill="#0a0a0a"/>
<rect x="358.76" y="123.4" width="1.1" height="7.2" fill="#00a44e"/>
<line x1="362.49" y1="119.5" x2="362.49" y2="130.3" stroke="#111" stroke-width="0.9"/>
<rect x="361.24" y="122.8" width="2.5" height="7.1" fill="#0a0a0a"/>
<rect x="361.94" y="123.5" width="1.1" height="5.7" fill="#b81226"/>
<line x1="365.66" y1="113.7" x2="365.66" y2="131.0" stroke="#111" stroke-width="0.9"/>
<rect x="364.41" y="115.6" width="2.5" height="15.0" fill="#0a0a0a"/>
<rect x="365.11" y="116.3" width="1.1" height="13.6" fill="#00a44e"/>
<line x1="368.84" y1="114.5" x2="368.84" y2="131.0" stroke="#111" stroke-width="0.9"/>
<rect x="367.59" y="115.6" width="2.5" height="4.9" fill="#0a0a0a"/>
<rect x="368.29" y="116.3" width="1.1" height="3.5" fill="#b81226"/>
<line x1="372.02" y1="111.1" x2="372.02" y2="125.3" stroke="#111" stroke-width="0.9"/>
<rect x="370.77" y="115.6" width="2.5" height="6.4" fill="#0a0a0a"/>
<rect x="371.47" y="116.3" width="1.1" height="5.0" fill="#b81226"/>
<line x1="375.19" y1="120.2" x2="375.19" y2="127.4" stroke="#111" stroke-width="0.9"/>
<rect x="373.94" y="122.8" width="2.5" height="1.5" fill="#0a0a0a"/>
<line x1="378.37" y1="118.1" x2="378.37" y2="126.0" stroke="#111" stroke-width="0.9"/>
<rect x="377.12" y="122.1" width="2.5" height="2.8" fill="#0a0a0a"/>
<rect x="377.82" y="122.8" width="1.1" height="1.4" fill="#b81226"/>
<line x1="381.54" y1="118.8" x2="381.54" y2="129.6" stroke="#111" stroke-width="0.9"/>
<rect x="380.29" y="123.5" width="2.5" height="4.2" fill="#0a0a0a"/>
<rect x="380.99" y="124.2" width="1.1" height="2.8" fill="#b81226"/>
<line x1="384.72" y1="126.0" x2="384.72" y2="150.5" stroke="#111" stroke-width="0.9"/>
<rect x="383.47" y="127.1" width="2.5" height="20.1" fill="#0a0a0a"/>
<rect x="384.17" y="127.8" width="1.1" height="18.7" fill="#b81226"/>
<line x1="387.90" y1="133.9" x2="387.90" y2="150.5" stroke="#111" stroke-width="0.9"/>
<rect x="386.65" y="143.7" width="2.5" height="3.5" fill="#0a0a0a"/>
<rect x="387.35" y="144.4" width="1.1" height="2.1" fill="#b81226"/>
<line x1="391.07" y1="144.0" x2="391.07" y2="154.8" stroke="#111" stroke-width="0.9"/>
<rect x="389.82" y="144.4" width="2.5" height="5.6" fill="#0a0a0a"/>
<rect x="390.52" y="145.1" width="1.1" height="4.2" fill="#b81226"/>
<line x1="394.25" y1="144.0" x2="394.25" y2="154.8" stroke="#111" stroke-width="0.9"/>
<rect x="393.00" y="148.7" width="2.5" height="1.5" fill="#0a0a0a"/>
<line x1="397.42" y1="138.2" x2="397.42" y2="149.0" stroke="#111" stroke-width="0.9"/>
<rect x="396.17" y="139.4" width="2.5" height="9.2" fill="#0a0a0a"/>
<rect x="396.87" y="140.1" width="1.1" height="7.8" fill="#00a44e"/>
<line x1="400.60" y1="129.6" x2="400.60" y2="141.1" stroke="#111" stroke-width="0.9"/>
<rect x="399.35" y="132.9" width="2.5" height="7.1" fill="#0a0a0a"/>
<rect x="400.05" y="133.6" width="1.1" height="5.7" fill="#00a44e"/>
<line x1="403.78" y1="112.3" x2="403.78" y2="133.9" stroke="#111" stroke-width="0.9"/>
<rect x="402.53" y="116.3" width="2.5" height="17.2" fill="#0a0a0a"/>
<rect x="403.23" y="117.0" width="1.1" height="15.8" fill="#00a44e"/>
<line x1="406.95" y1="110.1" x2="406.95" y2="129.6" stroke="#111" stroke-width="0.9"/>
<rect x="405.70" y="116.3" width="2.5" height="11.4" fill="#0a0a0a"/>
<rect x="406.40" y="117.0" width="1.1" height="10.0" fill="#b81226"/>
<line x1="410.13" y1="123.8" x2="410.13" y2="133.9" stroke="#111" stroke-width="0.9"/>
<rect x="408.88" y="124.2" width="2.5" height="4.9" fill="#0a0a0a"/>
<rect x="409.58" y="124.9" width="1.1" height="3.5" fill="#b81226"/>
<line x1="413.30" y1="123.1" x2="413.30" y2="129.6" stroke="#111" stroke-width="0.9"/>
<rect x="412.05" y="124.2" width="2.5" height="4.2" fill="#0a0a0a"/>
<rect x="412.75" y="124.9" width="1.1" height="2.8" fill="#b81226"/>
<line x1="416.48" y1="124.5" x2="416.48" y2="129.6" stroke="#111" stroke-width="0.9"/>
<rect x="415.23" y="125.7" width="2.5" height="2.0" fill="#0a0a0a"/>
<rect x="415.93" y="126.4" width="1.1" height="0.6" fill="#b81226"/>
<line x1="419.66" y1="123.8" x2="419.66" y2="134.6" stroke="#111" stroke-width="0.9"/>
<rect x="418.41" y="125.7" width="2.5" height="4.2" fill="#0a0a0a"/>
<rect x="419.11" y="126.4" width="1.1" height="2.8" fill="#b81226"/>
<line x1="422.83" y1="117.3" x2="422.83" y2="128.1" stroke="#111" stroke-width="0.9"/>
<rect x="421.58" y="118.5" width="2.5" height="9.2" fill="#0a0a0a"/>
<rect x="422.28" y="119.2" width="1.1" height="7.8" fill="#00a44e"/>
<line x1="426.01" y1="118.1" x2="426.01" y2="133.2" stroke="#111" stroke-width="0.9"/>
<rect x="424.76" y="118.5" width="2.5" height="9.2" fill="#0a0a0a"/>
<rect x="425.46" y="119.2" width="1.1" height="7.8" fill="#b81226"/>
<line x1="429.18" y1="122.4" x2="429.18" y2="132.5" stroke="#111" stroke-width="0.9"/>
<rect x="427.93" y="125.7" width="2.5" height="5.6" fill="#0a0a0a"/>
<rect x="428.63" y="126.4" width="1.1" height="4.2" fill="#b81226"/>
<line x1="432.36" y1="128.9" x2="432.36" y2="139.7" stroke="#111" stroke-width="0.9"/>
<rect x="431.11" y="129.3" width="2.5" height="7.1" fill="#0a0a0a"/>
<rect x="431.81" y="130.0" width="1.1" height="5.7" fill="#b81226"/>
<line x1="435.54" y1="132.5" x2="435.54" y2="137.5" stroke="#111" stroke-width="0.9"/>
<rect x="434.29" y="132.9" width="2.5" height="4.2" fill="#0a0a0a"/>
<rect x="434.99" y="133.6" width="1.1" height="2.8" fill="#b81226"/>
<line x1="438.71" y1="131.7" x2="438.71" y2="140.4" stroke="#111" stroke-width="0.9"/>
<rect x="437.46" y="132.9" width="2.5" height="7.1" fill="#0a0a0a"/>
<rect x="438.16" y="133.6" width="1.1" height="5.7" fill="#b81226"/>
<line x1="441.89" y1="130.3" x2="441.89" y2="140.4" stroke="#111" stroke-width="0.9"/>
<rect x="440.64" y="132.5" width="2.5" height="7.5" fill="#0a0a0a"/>
<rect x="441.34" y="133.2" width="1.1" height="6.1" fill="#00a44e"/>
<line x1="445.06" y1="129.3" x2="445.06" y2="150.5" stroke="#111" stroke-width="0.9"/>
<rect x="443.81" y="130.7" width="2.5" height="15.7" fill="#0a0a0a"/>
<rect x="444.51" y="131.4" width="1.1" height="14.3" fill="#b81226"/>
<line x1="448.24" y1="136.8" x2="448.24" y2="149.0" stroke="#111" stroke-width="0.9"/>
<rect x="446.99" y="140.8" width="2.5" height="5.6" fill="#0a0a0a"/>
<rect x="447.69" y="141.5" width="1.1" height="4.2" fill="#00a44e"/>
<line x1="451.42" y1="140.4" x2="451.42" y2="150.5" stroke="#111" stroke-width="0.9"/>
<rect x="450.17" y="140.8" width="2.5" height="7.1" fill="#0a0a0a"/>
<rect x="450.87" y="141.5" width="1.1" height="5.7" fill="#b81226"/>
<line x1="454.59" y1="146.2" x2="454.59" y2="150.5" stroke="#111" stroke-width="0.9"/>
<rect x="453.34" y="147.3" width="2.5" height="2.0" fill="#0a0a0a"/>
<rect x="454.04" y="148.0" width="1.1" height="0.6" fill="#b81226"/>
<line x1="457.77" y1="141.8" x2="457.77" y2="147.6" stroke="#111" stroke-width="0.9"/>
<rect x="456.52" y="143.0" width="2.5" height="4.2" fill="#0a0a0a"/>
<rect x="457.22" y="143.7" width="1.1" height="2.8" fill="#00a44e"/>
<line x1="460.94" y1="137.5" x2="460.94" y2="144.7" stroke="#111" stroke-width="0.9"/>
<rect x="459.69" y="137.9" width="2.5" height="5.6" fill="#0a0a0a"/>
<rect x="460.39" y="138.6" width="1.1" height="4.2" fill="#00a44e"/>
<line x1="464.12" y1="130.3" x2="464.12" y2="145.4" stroke="#111" stroke-width="0.9"/>
<rect x="462.87" y="131.4" width="2.5" height="5.6" fill="#0a0a0a"/>
<rect x="463.57" y="132.1" width="1.1" height="4.2" fill="#00a44e"/>
<line x1="467.30" y1="124.5" x2="467.30" y2="137.5" stroke="#111" stroke-width="0.9"/>
<rect x="466.05" y="132.5" width="2.5" height="3.9" fill="#0a0a0a"/>
<rect x="466.75" y="133.2" width="1.1" height="2.5" fill="#b81226"/>
<line x1="470.47" y1="129.6" x2="470.47" y2="164.2" stroke="#111" stroke-width="0.9"/>
<rect x="469.22" y="133.6" width="2.5" height="24.4" fill="#0a0a0a"/>
<rect x="469.92" y="134.3" width="1.1" height="23.0" fill="#b81226"/>
<line x1="473.65" y1="157.0" x2="473.65" y2="162.0" stroke="#111" stroke-width="0.9"/>
<rect x="472.40" y="157.4" width="2.5" height="3.9" fill="#0a0a0a"/>
<rect x="473.10" y="158.1" width="1.1" height="2.5" fill="#b81226"/>
<line x1="476.82" y1="152.6" x2="476.82" y2="162.0" stroke="#111" stroke-width="0.9"/>
<rect x="475.57" y="153.1" width="2.5" height="7.1" fill="#0a0a0a"/>
<rect x="476.27" y="153.8" width="1.1" height="5.7" fill="#00a44e"/>
<line x1="480.00" y1="136.8" x2="480.00" y2="162.7" stroke="#111" stroke-width="0.9"/>
<rect x="478.75" y="137.2" width="2.5" height="16.5" fill="#0a0a0a"/>
<rect x="479.45" y="137.9" width="1.1" height="15.1" fill="#00a44e"/>
<line x1="483.18" y1="133.2" x2="483.18" y2="141.8" stroke="#111" stroke-width="0.9"/>
<rect x="481.93" y="133.6" width="2.5" height="7.8" fill="#0a0a0a"/>
<rect x="482.63" y="134.3" width="1.1" height="6.4" fill="#00a44e"/>
<line x1="486.35" y1="120.2" x2="486.35" y2="138.2" stroke="#111" stroke-width="0.9"/>
<rect x="485.10" y="132.9" width="2.5" height="2.8" fill="#0a0a0a"/>
<rect x="485.80" y="133.6" width="1.1" height="1.4" fill="#b81226"/>
<line x1="489.53" y1="126.0" x2="489.53" y2="136.1" stroke="#111" stroke-width="0.9"/>
<rect x="488.28" y="130.0" width="2.5" height="4.9" fill="#0a0a0a"/>
<rect x="488.98" y="130.7" width="1.1" height="3.5" fill="#00a44e"/>
<line x1="492.70" y1="129.6" x2="492.70" y2="136.8" stroke="#111" stroke-width="0.9"/>
<rect x="491.45" y="130.0" width="2.5" height="6.4" fill="#0a0a0a"/>
<rect x="492.15" y="130.7" width="1.1" height="5.0" fill="#b81226"/>
<line x1="495.88" y1="130.3" x2="495.88" y2="136.8" stroke="#111" stroke-width="0.9"/>
<rect x="494.63" y="134.3" width="2.5" height="2.0" fill="#0a0a0a"/>
<rect x="495.33" y="135.0" width="1.1" height="0.6" fill="#b81226"/>
<line x1="499.06" y1="133.9" x2="499.06" y2="146.9" stroke="#111" stroke-width="0.9"/>
<rect x="497.81" y="135.8" width="2.5" height="7.8" fill="#0a0a0a"/>
<rect x="498.51" y="136.5" width="1.1" height="6.4" fill="#b81226"/>
<line x1="502.23" y1="123.8" x2="502.23" y2="146.2" stroke="#111" stroke-width="0.9"/>
<rect x="500.98" y="132.5" width="2.5" height="11.1" fill="#0a0a0a"/>
<rect x="501.68" y="133.2" width="1.1" height="9.7" fill="#00a44e"/>
<line x1="505.41" y1="113.0" x2="505.41" y2="133.2" stroke="#111" stroke-width="0.9"/>
<rect x="504.16" y="122.1" width="2.5" height="11.0" fill="#0a0a0a"/>
<rect x="504.86" y="122.8" width="1.1" height="9.6" fill="#00a44e"/>
<line x1="508.58" y1="118.8" x2="508.58" y2="129.6" stroke="#111" stroke-width="0.9"/>
<rect x="507.33" y="122.1" width="2.5" height="4.9" fill="#0a0a0a"/>
<rect x="508.03" y="122.8" width="1.1" height="3.5" fill="#b81226"/>
<line x1="511.76" y1="124.5" x2="511.76" y2="129.6" stroke="#111" stroke-width="0.9"/>
<rect x="510.51" y="125.7" width="2.5" height="3.5" fill="#0a0a0a"/>
<rect x="511.21" y="126.4" width="1.1" height="2.1" fill="#b81226"/>
<line x1="514.94" y1="117.3" x2="514.94" y2="126.0" stroke="#111" stroke-width="0.9"/>
<rect x="513.69" y="120.3" width="2.5" height="4.5" fill="#0a0a0a"/>
<rect x="514.39" y="121.0" width="1.1" height="3.1" fill="#b81226"/>
<g stroke="#2e9a2e" stroke-width="1.05"><line x1="3.60" y1="447.1" x2="3.60" y2="445.9"/><line x1="6.78" y1="447.1" x2="6.78" y2="444.4"/><line x1="9.95" y1="447.1" x2="9.95" y2="442.7"/><line x1="13.13" y1="447.1" x2="13.13" y2="442.0"/><line x1="16.30" y1="447.1" x2="16.30" y2="441.5"/><line x1="19.48" y1="447.1" x2="19.48" y2="441.2"/><line x1="22.66" y1="447.1" x2="22.66" y2="441.6"/><line x1="25.83" y1="447.1" x2="25.83" y2="442.6"/><line x1="29.01" y1="447.1" x2="29.01" y2="443.6"/><line x1="32.18" y1="447.1" x2="32.18" y2="444.6"/><line x1="35.36" y1="447.1" x2="35.36" y2="445.4"/><line x1="38.54" y1="447.1" x2="38.54" y2="446.1"/><line x1="41.71" y1="447.1" x2="41.71" y2="446.5"/><line x1="44.89" y1="447.1" x2="44.89" y2="446.5"/><line x1="48.06" y1="447.1" x2="48.06" y2="446.5"/><line x1="51.24" y1="447.1" x2="51.24" y2="446.5"/><line x1="54.42" y1="447.1" x2="54.42" y2="446.5"/><line x1="57.59" y1="447.1" x2="57.59" y2="443.5"/><line x1="60.77" y1="447.1" x2="60.77" y2="441.3"/><line x1="63.94" y1="447.1" x2="63.94" y2="439.6"/><line x1="67.12" y1="447.1" x2="67.12" y2="438.2"/><line x1="70.30" y1="447.1" x2="70.30" y2="436.6"/><line x1="73.47" y1="447.1" x2="73.47" y2="434.5"/><line x1="76.65" y1="447.1" x2="76.65" y2="433.4"/><line x1="79.82" y1="447.1" x2="79.82" y2="433.0"/><line x1="83.00" y1="447.1" x2="83.00" y2="433.4"/><line x1="86.18" y1="447.1" x2="86.18" y2="435.3"/><line x1="89.35" y1="447.1" x2="89.35" y2="438.3"/><line x1="92.53" y1="447.1" x2="92.53" y2="441.4"/><line x1="95.70" y1="447.1" x2="95.70" y2="444.0"/><line x1="98.88" y1="447.1" x2="98.88" y2="446.0"/><line x1="102.06" y1="447.1" x2="102.06" y2="446.5"/><line x1="105.23" y1="447.1" x2="105.23" y2="448.2"/><line x1="108.41" y1="447.1" x2="108.41" y2="449.4"/><line x1="111.58" y1="447.1" x2="111.58" y2="450.1"/><line x1="114.76" y1="447.1" x2="114.76" y2="449.9"/><line x1="117.94" y1="447.1" x2="117.94" y2="449.3"/><line x1="121.11" y1="447.1" x2="121.11" y2="448.7"/><line x1="124.29" y1="447.1" x2="124.29" y2="448.1"/><line x1="127.46" y1="447.1" x2="127.46" y2="446.5"/><line x1="130.64" y1="447.1" x2="130.64" y2="446.5"/><line x1="133.82" y1="447.1" x2="133.82" y2="446.5"/><line x1="136.99" y1="447.1" x2="136.99" y2="448.6"/><line x1="140.17" y1="447.1" x2="140.17" y2="449.2"/><line x1="143.34" y1="447.1" x2="143.34" y2="449.7"/><line x1="146.52" y1="447.1" x2="146.52" y2="450.2"/><line x1="149.70" y1="447.1" x2="149.70" y2="448.4"/><line x1="152.87" y1="447.1" x2="152.87" y2="444.7"/><line x1="156.05" y1="447.1" x2="156.05" y2="440.8"/><line x1="159.22" y1="447.1" x2="159.22" y2="437.6"/><line x1="162.40" y1="447.1" x2="162.40" y2="435.6"/><line x1="165.58" y1="447.1" x2="165.58" y2="434.9"/><line x1="168.75" y1="447.1" x2="168.75" y2="434.3"/><line x1="171.93" y1="447.1" x2="171.93" y2="434.3"/><line x1="175.10" y1="447.1" x2="175.10" y2="434.8"/><line x1="178.28" y1="447.1" x2="178.28" y2="438.2"/><line x1="181.46" y1="447.1" x2="181.46" y2="441.9"/><line x1="184.63" y1="447.1" x2="184.63" y2="444.5"/><line x1="187.81" y1="447.1" x2="187.81" y2="446.3"/><line x1="190.98" y1="447.1" x2="190.98" y2="448.4"/><line x1="194.16" y1="447.1" x2="194.16" y2="449.6"/><line x1="197.34" y1="447.1" x2="197.34" y2="450.9"/><line x1="200.51" y1="447.1" x2="200.51" y2="451.7"/><line x1="203.69" y1="447.1" x2="203.69" y2="452.2"/><line x1="206.86" y1="447.1" x2="206.86" y2="452.7"/><line x1="210.04" y1="447.1" x2="210.04" y2="452.3"/><line x1="213.22" y1="447.1" x2="213.22" y2="449.0"/><line x1="216.39" y1="447.1" x2="216.39" y2="448.0"/><line x1="219.57" y1="447.1" x2="219.57" y2="447.7"/><line x1="222.74" y1="447.1" x2="222.74" y2="446.5"/><line x1="225.92" y1="447.1" x2="225.92" y2="446.2"/><line x1="229.10" y1="447.1" x2="229.10" y2="445.1"/><line x1="232.27" y1="447.1" x2="232.27" y2="442.0"/><line x1="235.45" y1="447.1" x2="235.45" y2="439.5"/><line x1="238.62" y1="447.1" x2="238.62" y2="438.9"/><line x1="241.80" y1="447.1" x2="241.80" y2="438.7"/><line x1="244.98" y1="447.1" x2="244.98" y2="438.7"/><line x1="248.15" y1="447.1" x2="248.15" y2="438.9"/><line x1="251.33" y1="447.1" x2="251.33" y2="441.8"/><line x1="254.50" y1="447.1" x2="254.50" y2="444.8"/><line x1="257.68" y1="447.1" x2="257.68" y2="446.5"/><line x1="260.86" y1="447.1" x2="260.86" y2="446.5"/><line x1="264.03" y1="447.1" x2="264.03" y2="448.4"/><line x1="267.21" y1="447.1" x2="267.21" y2="447.9"/><line x1="270.38" y1="447.1" x2="270.38" y2="447.6"/><line x1="273.56" y1="447.1" x2="273.56" y2="446.5"/><line x1="276.74" y1="447.1" x2="276.74" y2="445.9"/><line x1="279.91" y1="447.1" x2="279.91" y2="446.3"/><line x1="283.09" y1="447.1" x2="283.09" y2="445.1"/><line x1="286.26" y1="447.1" x2="286.26" y2="443.3"/><line x1="289.44" y1="447.1" x2="289.44" y2="440.8"/><line x1="292.62" y1="447.1" x2="292.62" y2="437.4"/><line x1="295.79" y1="447.1" x2="295.79" y2="435.9"/><line x1="298.97" y1="447.1" x2="298.97" y2="436.3"/><line x1="302.14" y1="447.1" x2="302.14" y2="436.8"/><line x1="305.32" y1="447.1" x2="305.32" y2="439.3"/><line x1="308.50" y1="447.1" x2="308.50" y2="439.9"/><line x1="311.67" y1="447.1" x2="311.67" y2="441.4"/><line x1="314.85" y1="447.1" x2="314.85" y2="443.1"/><line x1="318.02" y1="447.1" x2="318.02" y2="445.1"/><line x1="321.20" y1="447.1" x2="321.20" y2="446.2"/><line x1="324.38" y1="447.1" x2="324.38" y2="446.6"/><line x1="327.55" y1="447.1" x2="327.55" y2="446.5"/><line x1="330.73" y1="447.1" x2="330.73" y2="445.8"/><line x1="333.90" y1="447.1" x2="333.90" y2="445.8"/><line x1="337.08" y1="447.1" x2="337.08" y2="446.3"/><line x1="340.26" y1="447.1" x2="340.26" y2="448.1"/><line x1="343.43" y1="447.1" x2="343.43" y2="450.2"/><line x1="346.61" y1="447.1" x2="346.61" y2="455.1"/><line x1="349.78" y1="447.1" x2="349.78" y2="459.0"/><line x1="352.96" y1="447.1" x2="352.96" y2="462.6"/><line x1="356.14" y1="447.1" x2="356.14" y2="464.3"/><line x1="359.31" y1="447.1" x2="359.31" y2="463.8"/><line x1="362.49" y1="447.1" x2="362.49" y2="463.0"/><line x1="365.66" y1="447.1" x2="365.66" y2="461.3"/><line x1="368.84" y1="447.1" x2="368.84" y2="460.0"/><line x1="372.02" y1="447.1" x2="372.02" y2="459.5"/><line x1="375.19" y1="447.1" x2="375.19" y2="458.7"/><line x1="378.37" y1="447.1" x2="378.37" y2="458.2"/><line x1="381.54" y1="447.1" x2="381.54" y2="459.4"/><line x1="384.72" y1="447.1" x2="384.72" y2="460.4"/><line x1="387.90" y1="447.1" x2="387.90" y2="461.7"/><line x1="391.07" y1="447.1" x2="391.07" y2="462.0"/><line x1="394.25" y1="447.1" x2="394.25" y2="462.1"/><line x1="397.42" y1="447.1" x2="397.42" y2="459.8"/><line x1="400.60" y1="447.1" x2="400.60" y2="455.4"/><line x1="403.78" y1="447.1" x2="403.78" y2="451.6"/><line x1="406.95" y1="447.1" x2="406.95" y2="448.8"/><line x1="410.13" y1="447.1" x2="410.13" y2="446.5"/><line x1="413.30" y1="447.1" x2="413.30" y2="446.5"/><line x1="416.48" y1="447.1" x2="416.48" y2="446.5"/><line x1="419.66" y1="447.1" x2="419.66" y2="446.2"/><line x1="422.83" y1="447.1" x2="422.83" y2="445.5"/><line x1="426.01" y1="447.1" x2="426.01" y2="445.7"/><line x1="429.18" y1="447.1" x2="429.18" y2="446.5"/><line x1="432.36" y1="447.1" x2="432.36" y2="448.1"/><line x1="435.54" y1="447.1" x2="435.54" y2="449.0"/><line x1="438.71" y1="447.1" x2="438.71" y2="449.6"/><line x1="441.89" y1="447.1" x2="441.89" y2="450.1"/><line x1="445.06" y1="447.1" x2="445.06" y2="450.8"/><line x1="448.24" y1="447.1" x2="448.24" y2="451.5"/><line x1="451.42" y1="447.1" x2="451.42" y2="452.1"/><line x1="454.59" y1="447.1" x2="454.59" y2="451.9"/><line x1="457.77" y1="447.1" x2="457.77" y2="450.7"/><line x1="460.94" y1="447.1" x2="460.94" y2="449.1"/><line x1="464.12" y1="447.1" x2="464.12" y2="447.6"/><line x1="467.30" y1="447.1" x2="467.30" y2="448.4"/><line x1="470.47" y1="447.1" x2="470.47" y2="450.3"/><line x1="473.65" y1="447.1" x2="473.65" y2="451.5"/><line x1="476.82" y1="447.1" x2="476.82" y2="451.3"/><line x1="480.00" y1="447.1" x2="480.00" y2="450.0"/><line x1="483.18" y1="447.1" x2="483.18" y2="448.0"/><line x1="486.35" y1="447.1" x2="486.35" y2="444.8"/><line x1="489.53" y1="447.1" x2="489.53" y2="443.3"/><line x1="492.70" y1="447.1" x2="492.70" y2="443.0"/><line x1="495.88" y1="447.1" x2="495.88" y2="443.3"/><line x1="499.06" y1="447.1" x2="499.06" y2="444.4"/><line x1="502.23" y1="447.1" x2="502.23" y2="444.1"/><line x1="505.41" y1="447.1" x2="505.41" y2="442.7"/><line x1="508.58" y1="447.1" x2="508.58" y2="442.1"/><line x1="511.76" y1="447.1" x2="511.76" y2="441.6"/><line x1="514.94" y1="447.1" x2="514.94" y2="441.9"/></g>
<path d="M3.1,475.2 L4.6,474.6 L6.1,473.8 L7.6,473.0 L9.1,472.2 L10.6,471.4 L12.1,470.7 L13.6,469.9 L15.1,469.2 L16.6,468.4 L18.1,467.7 L19.6,467.1 L21.1,466.5 L22.6,465.9 L24.1,465.3 L25.6,464.7 L27.1,464.2 L28.6,463.7 L30.1,463.2 L31.6,462.7 L33.1,462.3 L34.6,462.0 L36.1,461.8 L37.6,461.6 L39.1,461.5 L40.6,461.4 L42.1,461.3 L43.6,461.4 L45.1,461.4 L46.6,461.5 L48.1,461.5 L49.6,461.5 L51.1,461.4 L52.6,461.3 L54.1,461.0 L55.6,460.5 L57.1,459.7 L58.6,459.0 L60.1,458.2 L61.6,457.3 L63.1,456.3 L64.6,455.0 L66.1,453.8 L67.6,452.5 L69.1,451.2 L70.6,449.8 L72.1,448.3 L73.6,446.8 L75.1,445.3 L76.6,443.8 L78.1,442.3 L79.6,440.8 L81.1,439.3 L82.6,437.8 L84.1,436.4 L85.6,435.2 L87.1,434.1 L88.6,433.0 L90.1,432.0 L91.6,431.2 L93.1,430.5 L94.6,430.0 L96.1,429.6 L97.6,429.4 L99.1,429.3 L100.6,429.3 L102.1,429.4 L103.6,429.7 L105.1,429.9 L106.6,430.2 L108.1,430.5 L109.6,430.9 L111.1,431.3 L112.6,431.7 L114.1,432.1 L115.6,432.4 L117.1,432.7 L118.6,432.9 L120.1,433.1 L121.6,433.3 L123.1,433.4 L124.6,433.4 L126.1,433.3 L127.6,433.2 L129.1,433.1 L130.6,433.1 L132.1,433.3 L133.6,433.6 L135.1,433.9 L136.6,434.3 L138.1,434.6 L139.6,435.1 L141.1,435.5 L142.6,436.0 L144.1,436.4 L145.6,436.6 L147.1,436.6 L148.6,436.3 L150.1,435.8 L151.6,435.1 L153.1,434.3 L154.6,433.4 L156.1,432.4 L157.6,431.2 L159.1,430.1 L160.6,428.9 L162.1,427.7 L163.6,426.3 L165.1,424.8 L166.6,423.4 L168.1,421.9 L169.6,420.5 L171.1,419.2 L172.6,417.9 L174.1,416.7 L175.6,415.5 L177.1,414.4 L178.6,413.3 L180.1,412.2 L181.6,411.4 L183.1,410.8 L184.6,410.5 L186.1,410.2 L187.6,410.1 L189.1,410.2 L190.6,410.5 L192.1,410.8 L193.6,411.2 L195.1,411.6 L196.6,412.2 L198.1,412.9 L199.6,413.7 L201.1,414.5 L202.6,415.3 L204.1,416.0 L205.6,416.6 L207.1,417.2 L208.6,417.8 L210.1,418.4 L211.6,418.8 L213.1,419.2 L214.6,419.4 L216.1,419.7 L217.6,419.9 L219.1,420.0 L220.6,420.0 L222.1,419.9 L223.6,419.8 L225.1,419.7 L226.6,419.4 L228.1,418.7 L229.6,417.8 L231.1,416.9 L232.6,416.0 L234.1,415.1 L235.6,414.1 L237.1,413.1 L238.6,412.1 L240.1,411.1 L241.6,410.2 L243.1,409.3 L244.6,408.4 L246.1,407.5 L247.6,406.7 L249.1,405.9 L250.6,405.4 L252.1,405.0 L253.6,404.7 L255.1,404.4 L256.6,404.2 L258.1,404.1 L259.6,404.2 L261.1,404.4 L262.6,404.6 L264.1,404.8 L265.6,405.0 L267.1,405.0 L268.6,405.1 L270.1,405.1 L271.6,405.2 L273.1,405.1 L274.6,405.0 L276.1,404.8 L277.6,404.6 L279.1,404.4 L280.6,404.0 L282.1,403.4 L283.6,402.7 L285.1,401.9 L286.6,401.2 L288.1,400.3 L289.6,399.2 L291.1,397.9 L292.6,396.6 L294.1,395.3 L295.6,394.0 L297.1,392.8 L298.6,391.6 L300.1,390.4 L301.6,389.2 L303.1,388.1 L304.6,387.1 L306.1,386.2 L307.6,385.4 L309.1,384.6 L310.6,383.9 L312.1,383.3 L313.6,382.9 L315.1,382.5 L316.6,382.2 L318.1,381.9 L319.6,381.7 L321.1,381.6 L322.6,381.6 L324.1,381.6 L325.6,381.6 L327.1,381.5 L328.6,381.4 L330.1,381.2 L331.6,381.1 L333.1,380.9 L334.6,380.8 L336.1,380.6 L337.6,380.5 L339.1,380.4 L340.6,380.6 L342.1,380.9 L343.6,381.2 L345.1,382.1 L346.6,383.4 L348.1,385.2 L349.6,387.2 L351.1,389.3 L352.6,391.4 L354.1,393.7 L355.6,395.9 L357.1,398.0 L358.6,400.1 L360.1,402.2 L361.6,404.1 L363.1,405.9 L364.6,407.7 L366.1,409.3 L367.6,410.8 L369.1,412.1 L370.6,413.4 L372.1,414.6 L373.6,415.8 L375.1,416.9 L376.6,418.0 L378.1,419.1 L379.6,420.3 L381.1,421.5 L382.6,422.9 L384.1,424.4 L385.6,426.0 L387.1,427.9 L388.6,430.0 L390.1,432.3 L391.6,434.3 L393.1,436.1 L394.6,437.8 L396.1,439.2 L397.6,440.4 L399.1,441.3 L400.6,442.1 L402.1,442.7 L403.6,443.2 L405.1,443.6 L406.6,443.9 L408.1,444.1 L409.6,444.2 L411.1,444.3 L412.6,444.4 L414.1,444.5 L415.6,444.5 L417.1,444.4 L418.6,444.3 L420.1,444.2 L421.6,444.1 L423.1,444.1 L424.6,444.2 L426.1,444.3 L427.6,444.4 L429.1,444.5 L430.6,444.7 L432.1,444.9 L433.6,445.2 L435.1,445.4 L436.6,445.7 L438.1,445.9 L439.6,446.2 L441.1,446.4 L442.6,446.7 L444.1,446.9 L445.6,447.3 L447.1,447.7 L448.6,448.2 L450.1,448.7 L451.6,449.2 L453.1,449.7 L454.6,450.3 L456.1,450.9 L457.6,451.5 L459.1,452.1 L460.6,452.7 L462.1,453.2 L463.6,453.7 L465.1,454.2 L466.6,454.7 L468.1,455.2 L469.6,455.7 L471.1,456.2 L472.6,456.7 L474.1,457.2 L475.6,457.7 L477.1,458.0 L478.6,458.3 L480.1,458.5 L481.6,458.3 L483.1,457.9 L484.6,457.1 L486.1,456.4 L487.6,455.8 L489.1,455.3 L490.6,454.8 L492.1,454.3 L493.6,453.8 L495.1,453.3 L496.6,452.8 L498.1,452.3 L499.6,451.8 L501.1,451.3 L502.6,450.6 L504.1,449.9 L505.6,449.1 L507.1,448.4 L508.6,447.6 L510.1,446.9 L511.6,446.1 L513.1,445.4 L514.6,444.9" fill="none" stroke="#ff2020" stroke-width="1.1" stroke-dasharray="3,2.2" stroke-linejoin="round"/>
<path d="M3.1,473.6 L4.6,472.5 L6.1,470.8 L7.6,469.3 L9.1,467.8 L10.6,466.6 L12.1,465.4 L13.6,464.3 L15.1,463.5 L16.6,462.7 L18.1,461.9 L19.6,461.4 L21.1,460.9 L22.6,460.6 L24.1,460.3 L25.6,460.1 L27.1,459.9 L28.6,459.7 L30.1,459.6 L31.6,459.7 L33.1,459.9 L34.6,460.2 L36.1,460.4 L37.6,460.6 L39.1,460.6 L40.6,460.7 L42.1,460.7 L43.6,460.8 L45.1,461.0 L46.6,461.2 L48.1,461.5 L49.6,461.7 L51.1,461.6 L52.6,460.9 L54.1,459.6 L55.6,458.2 L57.1,456.8 L58.6,455.2 L60.1,453.5 L61.6,451.7 L63.1,449.8 L64.6,447.9 L66.1,445.9 L67.6,443.8 L69.1,441.7 L70.6,439.6 L72.1,437.5 L73.6,435.4 L75.1,433.3 L76.6,431.3 L78.1,429.4 L79.6,427.6 L81.1,425.9 L82.6,424.5 L84.1,423.3 L85.6,422.6 L87.1,422.3 L88.6,422.4 L90.1,422.8 L91.6,423.3 L93.1,423.9 L94.6,424.5 L96.1,425.2 L97.6,425.9 L99.1,426.7 L100.6,427.4 L102.1,428.3 L103.6,429.3 L105.1,430.5 L106.6,431.8 L108.1,432.9 L109.6,433.8 L111.1,434.5 L112.6,435.1 L114.1,435.5 L115.6,435.6 L117.1,435.6 L118.6,435.6 L120.1,435.4 L121.6,435.1 L123.1,434.5 L124.6,433.7 L126.1,433.0 L127.6,432.3 L129.1,431.8 L130.6,431.8 L132.1,432.2 L133.6,433.1 L135.1,434.0 L136.6,435.2 L138.1,436.2 L139.6,437.3 L141.1,438.2 L142.6,439.1 L144.1,439.8 L145.6,440.1 L147.1,439.5 L148.6,438.0 L150.1,435.9 L151.6,433.6 L153.1,431.1 L154.6,428.6 L156.1,426.0 L157.6,423.4 L159.1,420.8 L160.6,418.4 L162.1,416.1 L163.6,413.9 L165.1,411.7 L166.6,409.6 L168.1,407.4 L169.6,405.7 L171.1,404.5 L172.6,403.8 L174.1,403.4 L175.6,403.3 L177.1,403.6 L178.6,404.1 L180.1,404.9 L181.6,405.9 L183.1,407.1 L184.6,408.4 L186.1,409.8 L187.6,411.2 L189.1,412.7 L190.6,414.1 L192.1,415.2 L193.6,416.2 L195.1,417.1 L196.6,418.0 L198.1,418.8 L199.6,419.5 L201.1,420.3 L202.6,421.0 L204.1,421.7 L205.6,422.3 L207.1,422.9 L208.6,423.4 L210.1,423.3 L211.6,422.7 L213.1,421.6 L214.6,420.8 L216.1,420.4 L217.6,420.5 L219.1,420.6 L220.6,420.7 L222.1,420.5 L223.6,420.0 L225.1,419.2 L226.6,417.9 L228.1,416.3 L229.6,414.7 L231.1,413.1 L232.6,411.6 L234.1,410.1 L235.6,408.6 L237.1,407.1 L238.6,405.6 L240.1,404.2 L241.6,402.9 L243.1,401.7 L244.6,400.4 L246.1,399.3 L247.6,398.9 L249.1,399.1 L250.6,399.7 L252.1,400.3 L253.6,401.0 L255.1,401.7 L256.6,402.4 L258.1,403.2 L259.6,404.1 L261.1,405.2 L262.6,406.3 L264.1,406.8 L265.6,406.9 L267.1,406.5 L268.6,406.0 L270.1,405.5 L271.6,405.0 L273.1,404.4 L274.6,403.8 L276.1,403.4 L277.6,403.2 L279.1,403.0 L280.6,402.7 L282.1,402.0 L283.6,400.8 L285.1,399.1 L286.6,397.2 L288.1,395.0 L289.6,392.5 L291.1,389.9 L292.6,387.6 L294.1,385.6 L295.6,383.7 L297.1,382.1 L298.6,380.8 L300.1,379.9 L301.6,379.2 L303.1,378.8 L304.6,378.8 L306.1,378.7 L307.6,378.4 L309.1,377.9 L310.6,377.4 L312.1,377.3 L313.6,377.6 L315.1,378.0 L316.6,378.6 L318.1,379.2 L319.6,379.8 L321.1,380.4 L322.6,380.8 L324.1,380.9 L325.6,381.0 L327.1,380.8 L328.6,380.5 L330.1,380.1 L331.6,379.8 L333.1,379.6 L334.6,379.7 L336.1,379.8 L337.6,379.9 L339.1,380.4 L340.6,381.3 L342.1,382.6 L343.6,384.5 L345.1,387.1 L346.6,390.5 L348.1,393.9 L349.6,397.4 L351.1,400.7 L352.6,403.9 L354.1,406.8 L355.6,409.5 L357.1,412.0 L358.6,414.3 L360.1,416.3 L361.6,418.2 L363.1,419.7 L364.6,420.8 L366.1,421.6 L367.6,422.4 L369.1,423.4 L370.6,424.4 L372.1,425.6 L373.6,426.7 L375.1,427.8 L376.6,428.9 L378.1,430.3 L379.6,432.1 L381.1,434.2 L382.6,436.4 L384.1,438.7 L385.6,440.9 L387.1,443.2 L388.6,445.4 L390.1,447.5 L391.6,449.4 L393.1,451.0 L394.6,452.2 L396.1,452.9 L397.6,453.1 L399.1,452.7 L400.6,451.8 L402.1,450.6 L403.6,449.3 L405.1,448.1 L406.6,447.3 L408.1,446.5 L409.6,445.9 L411.1,445.4 L412.6,445.1 L414.1,444.7 L415.6,444.5 L417.1,444.3 L418.6,444.1 L420.1,443.7 L421.6,443.1 L423.1,442.5 L424.6,442.3 L426.1,442.5 L427.6,443.0 L429.1,443.5 L430.6,444.2 L432.1,444.8 L433.6,445.5 L435.1,446.1 L436.6,446.7 L438.1,447.4 L439.6,448.1 L441.1,448.8 L442.6,449.6 L444.1,450.5 L445.6,451.4 L447.1,452.3 L448.6,453.3 L450.1,454.5 L451.6,455.7 L453.1,456.6 L454.6,457.3 L456.1,457.6 L457.6,457.6 L459.1,457.4 L460.6,456.7 L462.1,455.8 L463.6,454.6 L465.1,453.7 L466.6,453.5 L468.1,454.5 L469.6,456.3 L471.1,458.3 L472.6,460.0 L474.1,461.1 L475.6,461.6 L477.1,461.6 L478.6,461.1 L480.1,460.2 L481.6,459.0 L483.1,457.7 L484.6,456.3 L486.1,454.8 L487.6,453.3 L489.1,452.0 L490.6,451.0 L492.1,450.1 L493.6,449.5 L495.1,449.1 L496.6,449.1 L498.1,448.8 L499.6,448.2 L501.1,447.2 L502.6,446.2 L504.1,445.1 L505.6,443.9 L507.1,443.0 L508.6,442.2 L510.1,441.6 L511.6,441.0 L513.1,440.3 L514.6,439.8" fill="none" stroke="#2424f4" stroke-width="1.05" stroke-linejoin="round"/>
<rect x="651" y="73.5" width="2.5" height="1" fill="#333"/><text x="656" y="77.7" fill="#111">0.93995</text><rect x="651" y="113.5" width="2.5" height="1" fill="#333"/><text x="656" y="117.7" fill="#111">0.93170</text><rect x="651" y="153.5" width="2.5" height="1" fill="#333"/><text x="656" y="157.7" fill="#111">0.92345</text><rect x="651" y="193.5" width="2.5" height="1" fill="#333"/><text x="656" y="197.7" fill="#111">0.91505</text><rect x="651" y="233.5" width="2.5" height="1" fill="#333"/><text x="656" y="237.7" fill="#111">0.90680</text><rect x="651" y="273.5" width="2.5" height="1" fill="#333"/><text x="656" y="277.7" fill="#111">0.89855</text><rect x="651" y="313.5" width="2.5" height="1" fill="#333"/><text x="656" y="317.7" fill="#111">0.89030</text><rect x="651" y="353.5" width="2.5" height="1" fill="#333"/><text x="656" y="357.7" fill="#111">0.88205</text>
<rect x="652" y="119.5" width="44" height="11.5" fill="#000"/><text x="656" y="129.2" fill="#fff">0.92952</text>
<rect x="652" y="54.0" width="44" height="11.5" fill="#ff0000"/><text x="656" y="63.4" fill="#fff">0.94301</text><rect x="652" y="82.7" width="44" height="11.5" fill="#ff0000"/><text x="656" y="92.1" fill="#fff">0.93715</text><rect x="652" y="126.8" width="44" height="11.5" fill="#ff0000"/><text x="656" y="136.2" fill="#fff">0.92801</text><rect x="652" y="152.0" width="44" height="11.5" fill="#ff0000"/><text x="656" y="161.4" fill="#fff">0.92269</text><rect x="652" y="173.9" width="44" height="11.5" fill="#ff0000"/><text x="656" y="183.3" fill="#fff">0.91809</text><rect x="652" y="201.9" width="44" height="11.5" fill="#ff0000"/><text x="656" y="211.3" fill="#fff">0.91246</text>
<text x="654" y="383.2" fill="#111">0.005503</text><rect x="651" y="446.5" width="2.5" height="1" fill="#333"/><text x="654" y="450.7" fill="#111">0.00</text><text x="654" y="478.2" fill="#111">-0.002393</text>
<rect x="3.0" y="480" width="1" height="3" fill="#333"/><text x="3.0" y="492.8" fill="#111" textLength="54" lengthAdjust="spacingAndGlyphs">12 Feb 2021</text><rect x="79.3" y="480" width="1" height="3" fill="#333"/><text x="79.3" y="492.8" fill="#111" textLength="58" lengthAdjust="spacingAndGlyphs">17 Feb 20:00</text><rect x="155.3" y="480" width="1" height="3" fill="#333"/><text x="155.3" y="492.8" fill="#111" textLength="58" lengthAdjust="spacingAndGlyphs">23 Feb 16:00</text><rect x="231.6" y="480" width="1" height="3" fill="#333"/><text x="231.6" y="492.8" fill="#111" textLength="52" lengthAdjust="spacingAndGlyphs">1 Mar 12:00</text><rect x="307.8" y="480" width="1" height="3" fill="#333"/><text x="307.8" y="492.8" fill="#111" textLength="52" lengthAdjust="spacingAndGlyphs">5 Mar 12:00</text><rect x="384.3" y="480" width="1" height="3" fill="#333"/><text x="384.3" y="492.8" fill="#111" textLength="57" lengthAdjust="spacingAndGlyphs">11 Mar 08:00</text><rect x="460.7" y="480" width="1" height="3" fill="#333"/><text x="460.7" y="492.8" fill="#111" textLength="57" lengthAdjust="spacingAndGlyphs">17 Mar 04:00</text>
<polygon points="5,45.5 13,45.5 9,50" fill="#000"/>
<text x="17.5" y="51.3" fill="#111" textLength="48.5" lengthAdjust="spacingAndGlyphs">USDCHF,H4</text>
<text x="74.2" y="51.3" fill="#111" textLength="156" lengthAdjust="spacingAndGlyphs">0.93027 0.93096 0.92896 0.92952</text>
<text x="6.8" y="384.2" fill="#111" textLength="66.2" lengthAdjust="spacingAndGlyphs">MACD(12,26,9)</text>
<text x="77.1" y="384.2" fill="#111" textLength="132" lengthAdjust="spacingAndGlyphs">0.000526 0.000089 0.000436</text>
</svg>
</body></html>
